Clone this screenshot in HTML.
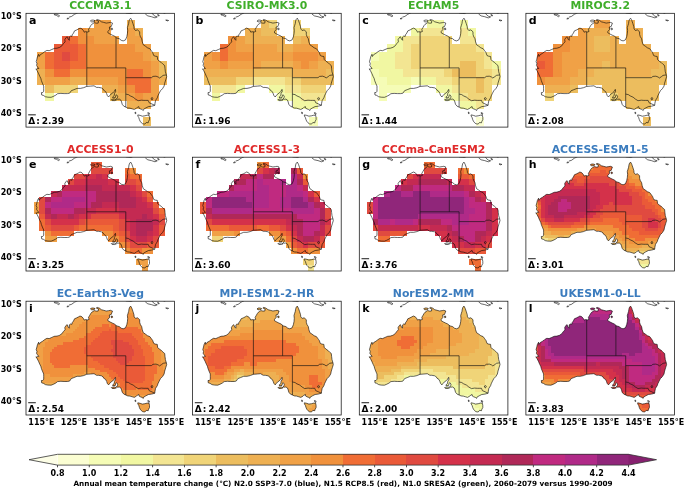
<!DOCTYPE html><html><head><meta charset="utf-8"><title>fig</title><style>
html,body{margin:0;padding:0;background:#fff}body{width:685px;height:488px;overflow:hidden}svg{display:block}text{font-family:"DejaVu Sans","Liberation Sans",sans-serif;font-weight:bold}
</style></head><body>
<svg width="685" height="488" viewBox="0 0 685 488">
<defs><path id="coast" d="M104.7 4.9 L105.9 7.2 L106.9 10.1 L107.9 13.3 L108.2 15.6 L109.5 17.2 L111.5 16.6 L113.7 18.5 L113.7 21.1 L114.4 23.4 L115.7 25.4 L116.3 28.6 L117.3 31.5 L119.3 32.8 L121.5 34.5 L123.8 35.4 L125.1 37.1 L126.7 39.3 L127.7 42.2 L129.3 42.9 L131.3 43.2 L131.6 46.1 L133.2 47.8 L135.2 49.1 L137.1 51.0 L138.7 52.3 L139.0 55.2 L139.4 58.5 L140.3 61.4 L140.7 63.4 L139.7 66.6 L138.7 69.9 L138.1 72.8 L136.5 75.4 L134.5 77.4 L133.2 79.9 L131.9 82.6 L131.3 84.5 L129.6 87.1 L129.0 90.0 L128.8 92.0 L125.7 92.9 L122.5 93.3 L119.9 94.6 L117.6 96.0 L117.3 97.2 L116.0 96.2 L114.4 95.6 L113.1 94.9 L112.8 93.3 L111.5 93.9 L110.5 94.9 L108.2 96.2 L106.3 95.6 L104.0 94.9 L101.7 94.7 L99.8 93.8 L97.8 92.9 L96.2 91.0 L95.6 88.7 L94.9 86.8 L93.3 85.8 L91.7 86.0 L90.4 85.8 L91.5 84.2 L91.7 82.9 L90.4 81.4 L89.7 82.6 L89.4 84.2 L86.8 84.7 L86.8 83.5 L88.3 82.2 L88.4 80.3 L89.7 78.0 L89.4 76.1 L88.1 78.3 L86.8 79.6 L84.9 80.9 L83.4 82.6 L82.6 83.7 L81.3 82.2 L80.6 80.3 L79.7 78.3 L77.7 77.0 L77.1 75.7 L75.4 74.6 L72.5 74.1 L70.6 74.1 L68.0 72.5 L64.7 72.8 L60.8 73.1 L57.6 74.4 L54.4 75.1 L51.1 75.1 L47.9 76.4 L45.3 77.4 L43.6 79.9 L41.4 80.3 L38.1 80.3 L34.9 80.1 L31.6 80.4 L29.7 81.9 L27.1 83.2 L25.1 84.0 L21.9 83.9 L19.3 83.4 L17.4 82.1 L15.7 81.7 L15.4 79.3 L16.7 79.3 L17.7 78.0 L17.7 75.1 L17.7 72.8 L16.4 69.9 L15.4 67.3 L14.8 65.0 L13.8 63.1 L12.7 60.5 L11.2 57.5 L9.9 55.6 L10.9 55.9 L11.8 55.2 L12.8 55.2 L11.5 53.6 L10.5 52.0 L11.0 50.4 L10.2 48.4 L10.9 45.8 L11.5 43.2 L12.7 41.0 L13.1 43.2 L14.4 41.3 L16.7 40.0 L18.7 38.4 L20.9 37.1 L23.2 37.4 L25.8 36.2 L28.4 35.1 L31.0 34.9 L33.6 34.1 L35.9 32.5 L37.5 30.2 L39.1 28.6 L38.8 26.3 L39.8 24.7 L41.0 23.4 L42.3 26.0 L43.3 27.0 L43.3 23.7 L44.3 22.8 L45.9 23.1 L46.2 21.5 L47.5 19.8 L48.5 17.6 L50.8 16.6 L52.7 15.6 L54.0 14.8 L56.0 15.6 L57.6 17.6 L58.2 18.9 L59.5 18.4 L61.5 18.7 L63.1 18.2 L62.5 16.2 L63.8 14.0 L64.7 12.4 L65.7 11.1 L66.8 10.4 L68.3 9.4 L70.3 9.9 L72.2 9.8 L72.5 7.8 L70.3 6.8 L71.2 6.2 L73.5 7.0 L75.4 8.5 L77.7 9.1 L80.3 9.8 L82.9 9.4 L84.5 9.1 L86.5 9.8 L85.8 11.7 L85.2 13.3 L83.4 13.7 L83.6 16.2 L81.9 18.2 L81.9 19.5 L84.2 20.8 L86.2 21.8 L88.4 22.8 L90.7 24.7 L93.3 25.4 L95.2 27.0 L97.2 27.6 L99.5 26.6 L100.8 23.4 L101.4 20.5 L101.7 17.2 L101.4 14.3 L102.1 12.0 L102.7 10.1 L103.0 7.8 L103.7 5.9ZM111.8 101.6 L114.1 102.1 L116.3 102.9 L118.9 102.5 L121.2 101.9 L123.1 102.1 L123.5 104.3 L123.5 106.3 L122.5 108.2 L122.2 109.5 L120.2 109.2 L118.9 110.8 L116.7 110.5 L115.4 109.5 L114.1 107.9 L113.4 106.3 L112.8 104.3 L111.8 102.7ZM85.3 86.4 L86.8 86.0 L88.8 85.8 L90.4 86.6 L88.8 87.3 L86.2 87.3ZM64.4 7.8 L65.4 6.8 L67.3 6.8 L69.0 7.3 L68.6 8.1 L67.0 8.6 L65.4 8.5ZM85.0 15.1 L86.2 14.8 L86.6 16.1 L85.5 16.6ZM109.0 98.8 L109.8 99.1 L109.8 100.4 L109.2 100.3ZM121.8 99.3 L123.5 99.9 L123.1 101.4 L122.3 100.8ZM43.0 3.9 L45.6 3.1 L48.5 1.0 L51.8 -0.6M40.7 5.5 L42.3 4.6 L42.7 5.4 L41.0 5.7M28.4 0.7 L31.3 1.0 L33.6 2.6 L32.6 3.4 L30.3 2.0 L28.4 1.6 L28.4 0.7M99.8 -0.3 L103.0 0.0 L105.0 0.3 L106.9 -0.6M119.3 0.7 L121.8 2.6 L125.4 3.4 L129.0 4.6 L131.3 3.6 L129.0 2.9 L127.4 1.6 L125.7 -0.6M137.1 -0.6 L138.7 0.0 L139.7 -0.6M132.2 2.6 L133.2 2.6 L132.9 1.6 L131.6 1.3 L132.2 2.6M139.7 6.8 L141.3 7.6 L142.6 7.2 L140.7 6.7 L139.7 6.8"/><path id="bord" d="M60.8 18.5 L60.8 73.1M90.0 24.1 L90.0 54.6M60.8 54.6 L99.8 54.6M99.8 54.6 L99.8 93.8M99.8 64.4 L125.4 64.4 L127.0 63.1 L130.0 62.9 L132.2 63.7 L133.5 64.7 L135.5 63.4 L137.1 62.1 L140.3 61.6M99.8 80.8 L102.4 81.3 L104.3 82.6 L107.2 83.9 L109.5 85.8 L112.1 87.4 L115.4 86.9 L118.0 87.1 L119.9 87.1 L122.2 87.1 L123.1 89.4 L128.8 92.0M125.1 84.8 L126.2 84.3 L127.0 85.0 L126.1 86.8 L125.3 86.1Z"/><clipPath id="land"><path d="M104.7 4.9 L105.9 7.2 L106.9 10.1 L107.9 13.3 L108.2 15.6 L109.5 17.2 L111.5 16.6 L113.7 18.5 L113.7 21.1 L114.4 23.4 L115.7 25.4 L116.3 28.6 L117.3 31.5 L119.3 32.8 L121.5 34.5 L123.8 35.4 L125.1 37.1 L126.7 39.3 L127.7 42.2 L129.3 42.9 L131.3 43.2 L131.6 46.1 L133.2 47.8 L135.2 49.1 L137.1 51.0 L138.7 52.3 L139.0 55.2 L139.4 58.5 L140.3 61.4 L140.7 63.4 L139.7 66.6 L138.7 69.9 L138.1 72.8 L136.5 75.4 L134.5 77.4 L133.2 79.9 L131.9 82.6 L131.3 84.5 L129.6 87.1 L129.0 90.0 L128.8 92.0 L125.7 92.9 L122.5 93.3 L119.9 94.6 L117.6 96.0 L117.3 97.2 L116.0 96.2 L114.4 95.6 L113.1 94.9 L112.8 93.3 L111.5 93.9 L110.5 94.9 L108.2 96.2 L106.3 95.6 L104.0 94.9 L101.7 94.7 L99.8 93.8 L97.8 92.9 L96.2 91.0 L95.6 88.7 L94.9 86.8 L93.3 85.8 L91.7 86.0 L90.4 85.8 L91.5 84.2 L91.7 82.9 L90.4 81.4 L89.7 82.6 L89.4 84.2 L86.8 84.7 L86.8 83.5 L88.3 82.2 L88.4 80.3 L89.7 78.0 L89.4 76.1 L88.1 78.3 L86.8 79.6 L84.9 80.9 L83.4 82.6 L82.6 83.7 L81.3 82.2 L80.6 80.3 L79.7 78.3 L77.7 77.0 L77.1 75.7 L75.4 74.6 L72.5 74.1 L70.6 74.1 L68.0 72.5 L64.7 72.8 L60.8 73.1 L57.6 74.4 L54.4 75.1 L51.1 75.1 L47.9 76.4 L45.3 77.4 L43.6 79.9 L41.4 80.3 L38.1 80.3 L34.9 80.1 L31.6 80.4 L29.7 81.9 L27.1 83.2 L25.1 84.0 L21.9 83.9 L19.3 83.4 L17.4 82.1 L15.7 81.7 L15.4 79.3 L16.7 79.3 L17.7 78.0 L17.7 75.1 L17.7 72.8 L16.4 69.9 L15.4 67.3 L14.8 65.0 L13.8 63.1 L12.7 60.5 L11.2 57.5 L9.9 55.6 L10.9 55.9 L11.8 55.2 L12.8 55.2 L11.5 53.6 L10.5 52.0 L11.0 50.4 L10.2 48.4 L10.9 45.8 L11.5 43.2 L12.7 41.0 L13.1 43.2 L14.4 41.3 L16.7 40.0 L18.7 38.4 L20.9 37.1 L23.2 37.4 L25.8 36.2 L28.4 35.1 L31.0 34.9 L33.6 34.1 L35.9 32.5 L37.5 30.2 L39.1 28.6 L38.8 26.3 L39.8 24.7 L41.0 23.4 L42.3 26.0 L43.3 27.0 L43.3 23.7 L44.3 22.8 L45.9 23.1 L46.2 21.5 L47.5 19.8 L48.5 17.6 L50.8 16.6 L52.7 15.6 L54.0 14.8 L56.0 15.6 L57.6 17.6 L58.2 18.9 L59.5 18.4 L61.5 18.7 L63.1 18.2 L62.5 16.2 L63.8 14.0 L64.7 12.4 L65.7 11.1 L66.8 10.4 L68.3 9.4 L70.3 9.9 L72.2 9.8 L72.5 7.8 L70.3 6.8 L71.2 6.2 L73.5 7.0 L75.4 8.5 L77.7 9.1 L80.3 9.8 L82.9 9.4 L84.5 9.1 L86.5 9.8 L85.8 11.7 L85.2 13.3 L83.4 13.7 L83.6 16.2 L81.9 18.2 L81.9 19.5 L84.2 20.8 L86.2 21.8 L88.4 22.8 L90.7 24.7 L93.3 25.4 L95.2 27.0 L97.2 27.6 L99.5 26.6 L100.8 23.4 L101.4 20.5 L101.7 17.2 L101.4 14.3 L102.1 12.0 L102.7 10.1 L103.0 7.8 L103.7 5.9ZM111.8 101.6 L114.1 102.1 L116.3 102.9 L118.9 102.5 L121.2 101.9 L123.1 102.1 L123.5 104.3 L123.5 106.3 L122.5 108.2 L122.2 109.5 L120.2 109.2 L118.9 110.8 L116.7 110.5 L115.4 109.5 L114.1 107.9 L113.4 106.3 L112.8 104.3 L111.8 102.7ZM85.3 86.4 L86.8 86.0 L88.8 85.8 L90.4 86.6 L88.8 87.3 L86.2 87.3ZM64.4 7.8 L65.4 6.8 L67.3 6.8 L69.0 7.3 L68.6 8.1 L67.0 8.6 L65.4 8.5ZM85.0 15.1 L86.2 14.8 L86.6 16.1 L85.5 16.6Z"/></clipPath><clipPath id="cp"><rect x="0" y="0" width="148.6" height="113.8"/></clipPath></defs>
<rect width="685" height="488" fill="#fff"/>
<g transform="translate(26.0 13.3)">
<g clip-path="url(#cp)">
<g shape-rendering="crispEdges">
<rect x="68.14" y="6.66" width="16.38" height="8.28" fill="#f0a146"/>
<rect x="100.59" y="6.66" width="8.26" height="8.28" fill="#eeb052"/>
<rect x="51.92" y="14.79" width="8.26" height="8.28" fill="#f0913c"/>
<rect x="60.03" y="14.79" width="24.49" height="8.28" fill="#f0a146"/>
<rect x="100.59" y="14.79" width="8.26" height="8.28" fill="#f0a146"/>
<rect x="108.71" y="14.79" width="8.26" height="8.28" fill="#eeb052"/>
<rect x="35.70" y="22.91" width="8.26" height="8.28" fill="#ea5a38"/>
<rect x="43.81" y="22.91" width="8.26" height="8.28" fill="#f06d35"/>
<rect x="51.92" y="22.91" width="16.37" height="8.28" fill="#f0913c"/>
<rect x="68.14" y="22.91" width="24.49" height="8.28" fill="#f0a146"/>
<rect x="100.59" y="22.91" width="16.38" height="8.28" fill="#f0a146"/>
<rect x="27.58" y="31.04" width="24.49" height="8.28" fill="#ea5a38"/>
<rect x="51.92" y="31.04" width="8.26" height="8.28" fill="#f06d35"/>
<rect x="60.03" y="31.04" width="48.83" height="8.28" fill="#f0913c"/>
<rect x="108.71" y="31.04" width="16.37" height="8.28" fill="#f0a146"/>
<rect x="11.36" y="39.16" width="8.26" height="8.28" fill="#f0a146"/>
<rect x="19.47" y="39.16" width="8.26" height="8.28" fill="#f06d35"/>
<rect x="27.58" y="39.16" width="8.26" height="8.28" fill="#ea5a38"/>
<rect x="35.70" y="39.16" width="8.26" height="8.28" fill="#e04a40"/>
<rect x="43.81" y="39.16" width="8.26" height="8.28" fill="#ea5a38"/>
<rect x="51.92" y="39.16" width="8.26" height="8.28" fill="#f06d35"/>
<rect x="60.03" y="39.16" width="56.94" height="8.28" fill="#f0913c"/>
<rect x="116.82" y="39.16" width="8.26" height="8.28" fill="#f0a146"/>
<rect x="124.93" y="39.16" width="8.26" height="8.28" fill="#eeb052"/>
<rect x="11.36" y="47.29" width="8.26" height="8.28" fill="#f0a146"/>
<rect x="19.47" y="47.29" width="8.26" height="8.28" fill="#f06d35"/>
<rect x="27.58" y="47.29" width="16.38" height="8.28" fill="#ea5a38"/>
<rect x="43.81" y="47.29" width="16.37" height="8.28" fill="#f06d35"/>
<rect x="60.03" y="47.29" width="65.05" height="8.28" fill="#f0913c"/>
<rect x="124.93" y="47.29" width="8.26" height="8.28" fill="#f0a146"/>
<rect x="133.05" y="47.29" width="8.26" height="8.28" fill="#ecbd5e"/>
<rect x="11.36" y="55.41" width="8.26" height="8.28" fill="#eeb052"/>
<rect x="19.47" y="55.41" width="8.26" height="8.28" fill="#f0913c"/>
<rect x="27.58" y="55.41" width="16.38" height="8.28" fill="#f06d35"/>
<rect x="43.81" y="55.41" width="56.94" height="8.28" fill="#f0913c"/>
<rect x="100.59" y="55.41" width="16.38" height="8.28" fill="#f06d35"/>
<rect x="116.82" y="55.41" width="8.26" height="8.28" fill="#f0913c"/>
<rect x="124.93" y="55.41" width="8.26" height="8.28" fill="#f0a146"/>
<rect x="133.05" y="55.41" width="8.26" height="8.28" fill="#ecbd5e"/>
<rect x="11.36" y="63.54" width="8.26" height="8.28" fill="#eeb052"/>
<rect x="19.47" y="63.54" width="24.49" height="8.28" fill="#f0a146"/>
<rect x="43.81" y="63.54" width="16.37" height="8.28" fill="#eeb052"/>
<rect x="60.03" y="63.54" width="32.60" height="8.28" fill="#f0a146"/>
<rect x="92.48" y="63.54" width="8.26" height="8.28" fill="#f0913c"/>
<rect x="100.59" y="63.54" width="24.49" height="8.28" fill="#f06d35"/>
<rect x="124.93" y="63.54" width="8.26" height="8.28" fill="#f0a146"/>
<rect x="133.05" y="63.54" width="8.26" height="8.28" fill="#eeb052"/>
<rect x="19.47" y="71.66" width="8.26" height="8.28" fill="#ecbd5e"/>
<rect x="27.58" y="71.66" width="24.49" height="8.28" fill="#f0d478"/>
<rect x="76.26" y="71.66" width="16.37" height="8.28" fill="#eeb052"/>
<rect x="92.48" y="71.66" width="8.26" height="8.28" fill="#f0a146"/>
<rect x="100.59" y="71.66" width="8.26" height="8.28" fill="#f0913c"/>
<rect x="108.71" y="71.66" width="16.37" height="8.28" fill="#f06d35"/>
<rect x="124.93" y="71.66" width="8.26" height="8.28" fill="#f0a146"/>
<rect x="19.47" y="79.79" width="8.26" height="8.28" fill="#f1f7a2"/>
<rect x="84.37" y="79.79" width="8.26" height="8.28" fill="#ecbd5e"/>
<rect x="92.48" y="79.79" width="8.26" height="8.28" fill="#eeb052"/>
<rect x="100.59" y="79.79" width="8.26" height="8.28" fill="#f0a146"/>
<rect x="108.71" y="79.79" width="8.26" height="8.28" fill="#f0913c"/>
<rect x="116.82" y="79.79" width="16.38" height="8.28" fill="#f0a146"/>
<rect x="100.59" y="87.91" width="24.49" height="8.28" fill="#eeb052"/>
<rect x="116.82" y="104.16" width="8.26" height="8.28" fill="#ecbd5e"/>
</g>
<use href="#coast" fill="none" stroke="#000" stroke-width="0.6" stroke-linejoin="round"/>
<use href="#bord" fill="none" stroke="#111" stroke-width="0.65"/>
</g>
<rect x="0" y="0" width="148.6" height="113.8" fill="none" stroke="#111" stroke-width="0.75"/>
<text x="2.9" y="10.9" font-size="11">a</text>
<text x="2.2" y="110.4" font-size="9">Δ<tspan dx="1">:</tspan><tspan dx="2">2.39</tspan></text>
<rect x="2.2" y="101.1" width="7.6" height="0.9" fill="#000"/>
<text x="74.3" y="-4.2" font-size="10.85" text-anchor="middle" fill="#3fae2a">CCCMA3.1</text>
</g>
<g transform="translate(192.6 13.3)">
<g clip-path="url(#cp)">
<g shape-rendering="crispEdges">
<rect x="68.14" y="6.66" width="8.26" height="8.28" fill="#ecbd5e"/>
<rect x="76.26" y="6.66" width="8.26" height="8.28" fill="#f0d478"/>
<rect x="100.59" y="6.66" width="8.26" height="8.28" fill="#f0d478"/>
<rect x="51.92" y="14.79" width="16.37" height="8.28" fill="#eeb052"/>
<rect x="68.14" y="14.79" width="16.38" height="8.28" fill="#ecbd5e"/>
<rect x="100.59" y="14.79" width="16.38" height="8.28" fill="#f0d478"/>
<rect x="35.70" y="22.91" width="8.26" height="8.28" fill="#f0913c"/>
<rect x="43.81" y="22.91" width="8.26" height="8.28" fill="#f0a146"/>
<rect x="51.92" y="22.91" width="40.71" height="8.28" fill="#eeb052"/>
<rect x="100.59" y="22.91" width="8.26" height="8.28" fill="#ecbd5e"/>
<rect x="108.71" y="22.91" width="8.26" height="8.28" fill="#eeb052"/>
<rect x="27.58" y="31.04" width="8.26" height="8.28" fill="#f06d35"/>
<rect x="35.70" y="31.04" width="8.26" height="8.28" fill="#f0913c"/>
<rect x="43.81" y="31.04" width="40.71" height="8.28" fill="#f0a146"/>
<rect x="84.37" y="31.04" width="16.37" height="8.28" fill="#eeb052"/>
<rect x="100.59" y="31.04" width="24.49" height="8.28" fill="#f0a146"/>
<rect x="11.36" y="39.16" width="8.26" height="8.28" fill="#f0a146"/>
<rect x="19.47" y="39.16" width="8.26" height="8.28" fill="#f0913c"/>
<rect x="27.58" y="39.16" width="8.26" height="8.28" fill="#f06d35"/>
<rect x="35.70" y="39.16" width="24.49" height="8.28" fill="#f0913c"/>
<rect x="60.03" y="39.16" width="40.71" height="8.28" fill="#f0a146"/>
<rect x="100.59" y="39.16" width="24.49" height="8.28" fill="#f0913c"/>
<rect x="124.93" y="39.16" width="8.26" height="8.28" fill="#f0a146"/>
<rect x="11.36" y="47.29" width="16.38" height="8.28" fill="#f0a146"/>
<rect x="27.58" y="47.29" width="8.26" height="8.28" fill="#f0913c"/>
<rect x="35.70" y="47.29" width="32.60" height="8.28" fill="#f0a146"/>
<rect x="68.14" y="47.29" width="32.60" height="8.28" fill="#eeb052"/>
<rect x="100.59" y="47.29" width="8.26" height="8.28" fill="#f0a146"/>
<rect x="108.71" y="47.29" width="8.26" height="8.28" fill="#f0913c"/>
<rect x="116.82" y="47.29" width="8.26" height="8.28" fill="#f0a146"/>
<rect x="124.93" y="47.29" width="16.37" height="8.28" fill="#eeb052"/>
<rect x="11.36" y="55.41" width="48.82" height="8.28" fill="#eeb052"/>
<rect x="60.03" y="55.41" width="40.71" height="8.28" fill="#ecbd5e"/>
<rect x="100.59" y="55.41" width="32.60" height="8.28" fill="#eeb052"/>
<rect x="133.05" y="55.41" width="8.26" height="8.28" fill="#ecbd5e"/>
<rect x="11.36" y="63.54" width="32.60" height="8.28" fill="#ecbd5e"/>
<rect x="43.81" y="63.54" width="16.37" height="8.28" fill="#f0d478"/>
<rect x="60.03" y="63.54" width="32.60" height="8.28" fill="#f3e592"/>
<rect x="92.48" y="63.54" width="16.38" height="8.28" fill="#f0d478"/>
<rect x="108.71" y="63.54" width="32.60" height="8.28" fill="#ecbd5e"/>
<rect x="19.47" y="71.66" width="24.49" height="8.28" fill="#f3e592"/>
<rect x="43.81" y="71.66" width="8.26" height="8.28" fill="#f1f7a2"/>
<rect x="76.26" y="71.66" width="16.37" height="8.28" fill="#f1f7a2"/>
<rect x="92.48" y="71.66" width="16.38" height="8.28" fill="#f3e592"/>
<rect x="108.71" y="71.66" width="24.49" height="8.28" fill="#f0d478"/>
<rect x="19.47" y="79.79" width="8.26" height="8.28" fill="#f1f7a2"/>
<rect x="84.37" y="79.79" width="8.26" height="8.28" fill="#f5fcb6"/>
<rect x="92.48" y="79.79" width="16.38" height="8.28" fill="#f1f7a2"/>
<rect x="108.71" y="79.79" width="24.49" height="8.28" fill="#f3e592"/>
<rect x="100.59" y="87.91" width="24.49" height="8.28" fill="#f1f7a2"/>
<rect x="116.82" y="104.16" width="8.26" height="8.28" fill="#f5fcb6"/>
</g>
<use href="#coast" fill="none" stroke="#000" stroke-width="0.6" stroke-linejoin="round"/>
<use href="#bord" fill="none" stroke="#111" stroke-width="0.65"/>
</g>
<rect x="0" y="0" width="148.6" height="113.8" fill="none" stroke="#111" stroke-width="0.75"/>
<text x="2.9" y="10.9" font-size="11">b</text>
<text x="2.2" y="110.4" font-size="9">Δ<tspan dx="1">:</tspan><tspan dx="2">1.96</tspan></text>
<rect x="2.2" y="101.1" width="7.6" height="0.9" fill="#000"/>
<text x="74.3" y="-4.2" font-size="10.85" text-anchor="middle" fill="#3fae2a">CSIRO-MK3.0</text>
</g>
<g transform="translate(359.3 13.3)">
<g clip-path="url(#cp)">
<g shape-rendering="crispEdges">
<rect x="68.14" y="6.66" width="16.38" height="8.28" fill="#f1f7a2"/>
<rect x="100.59" y="6.66" width="8.26" height="8.28" fill="#f1f7a2"/>
<rect x="51.92" y="14.79" width="8.26" height="8.28" fill="#f1f7a2"/>
<rect x="60.03" y="14.79" width="24.49" height="8.28" fill="#f3e592"/>
<rect x="100.59" y="14.79" width="8.26" height="8.28" fill="#f3e592"/>
<rect x="108.71" y="14.79" width="8.26" height="8.28" fill="#f1f7a2"/>
<rect x="35.70" y="22.91" width="8.26" height="8.28" fill="#f1f7a2"/>
<rect x="43.81" y="22.91" width="16.37" height="8.28" fill="#f3e592"/>
<rect x="60.03" y="22.91" width="32.60" height="8.28" fill="#f0d478"/>
<rect x="100.59" y="22.91" width="16.38" height="8.28" fill="#f3e592"/>
<rect x="27.58" y="31.04" width="16.38" height="8.28" fill="#f1f7a2"/>
<rect x="43.81" y="31.04" width="8.26" height="8.28" fill="#f3e592"/>
<rect x="51.92" y="31.04" width="65.05" height="8.28" fill="#f0d478"/>
<rect x="116.82" y="31.04" width="8.26" height="8.28" fill="#f3e592"/>
<rect x="11.36" y="39.16" width="8.26" height="8.28" fill="#f5fcb6"/>
<rect x="19.47" y="39.16" width="16.38" height="8.28" fill="#f1f7a2"/>
<rect x="35.70" y="39.16" width="16.38" height="8.28" fill="#f3e592"/>
<rect x="51.92" y="39.16" width="73.16" height="8.28" fill="#f0d478"/>
<rect x="124.93" y="39.16" width="8.26" height="8.28" fill="#f3e592"/>
<rect x="11.36" y="47.29" width="24.49" height="8.28" fill="#f1f7a2"/>
<rect x="35.70" y="47.29" width="16.38" height="8.28" fill="#f3e592"/>
<rect x="51.92" y="47.29" width="48.82" height="8.28" fill="#f0d478"/>
<rect x="100.59" y="47.29" width="16.38" height="8.28" fill="#ecbd5e"/>
<rect x="116.82" y="47.29" width="8.26" height="8.28" fill="#f0d478"/>
<rect x="124.93" y="47.29" width="8.26" height="8.28" fill="#f3e592"/>
<rect x="133.05" y="47.29" width="8.26" height="8.28" fill="#f1f7a2"/>
<rect x="11.36" y="55.41" width="8.26" height="8.28" fill="#f5fcb6"/>
<rect x="19.47" y="55.41" width="24.49" height="8.28" fill="#f1f7a2"/>
<rect x="43.81" y="55.41" width="40.71" height="8.28" fill="#f3e592"/>
<rect x="84.37" y="55.41" width="8.26" height="8.28" fill="#f0d478"/>
<rect x="92.48" y="55.41" width="24.49" height="8.28" fill="#ecbd5e"/>
<rect x="116.82" y="55.41" width="16.38" height="8.28" fill="#f0d478"/>
<rect x="133.05" y="55.41" width="8.26" height="8.28" fill="#f3e592"/>
<rect x="11.36" y="63.54" width="16.38" height="8.28" fill="#f5fcb6"/>
<rect x="27.58" y="63.54" width="24.49" height="8.28" fill="#f1f7a2"/>
<rect x="51.92" y="63.54" width="8.26" height="8.28" fill="#f5fcb6"/>
<rect x="60.03" y="63.54" width="16.38" height="8.28" fill="#f1f7a2"/>
<rect x="76.26" y="63.54" width="16.37" height="8.28" fill="#f3e592"/>
<rect x="92.48" y="63.54" width="24.49" height="8.28" fill="#f0d478"/>
<rect x="116.82" y="63.54" width="8.26" height="8.28" fill="#ecbd5e"/>
<rect x="124.93" y="63.54" width="8.26" height="8.28" fill="#f0d478"/>
<rect x="133.05" y="63.54" width="8.26" height="8.28" fill="#f3e592"/>
<rect x="19.47" y="71.66" width="32.60" height="8.28" fill="#f5fcb6"/>
<rect x="76.26" y="71.66" width="16.37" height="8.28" fill="#f1f7a2"/>
<rect x="92.48" y="71.66" width="8.26" height="8.28" fill="#f3e592"/>
<rect x="100.59" y="71.66" width="16.38" height="8.28" fill="#f0d478"/>
<rect x="116.82" y="71.66" width="8.26" height="8.28" fill="#ecbd5e"/>
<rect x="124.93" y="71.66" width="8.26" height="8.28" fill="#f0d478"/>
<rect x="19.47" y="79.79" width="8.26" height="8.28" fill="#f5fcb6"/>
<rect x="84.37" y="79.79" width="8.26" height="8.28" fill="#f5fcb6"/>
<rect x="92.48" y="79.79" width="8.26" height="8.28" fill="#f1f7a2"/>
<rect x="100.59" y="79.79" width="8.26" height="8.28" fill="#f3e592"/>
<rect x="108.71" y="79.79" width="24.49" height="8.28" fill="#f0d478"/>
<rect x="100.59" y="87.91" width="16.38" height="8.28" fill="#f1f7a2"/>
<rect x="116.82" y="87.91" width="8.26" height="8.28" fill="#f3e592"/>
<rect x="116.82" y="104.16" width="8.26" height="8.28" fill="#fbfed2"/>
</g>
<use href="#coast" fill="none" stroke="#000" stroke-width="0.6" stroke-linejoin="round"/>
<use href="#bord" fill="none" stroke="#111" stroke-width="0.65"/>
</g>
<rect x="0" y="0" width="148.6" height="113.8" fill="none" stroke="#111" stroke-width="0.75"/>
<text x="2.9" y="10.9" font-size="11">c</text>
<text x="2.2" y="110.4" font-size="9">Δ<tspan dx="1">:</tspan><tspan dx="2">1.44</tspan></text>
<rect x="2.2" y="101.1" width="7.6" height="0.9" fill="#000"/>
<text x="74.3" y="-4.2" font-size="10.85" text-anchor="middle" fill="#3fae2a">ECHAM5</text>
</g>
<g transform="translate(525.9 13.3)">
<g clip-path="url(#cp)">
<g shape-rendering="crispEdges">
<rect x="68.14" y="6.66" width="16.38" height="8.28" fill="#f0a146"/>
<rect x="100.59" y="6.66" width="8.26" height="8.28" fill="#eeb052"/>
<rect x="51.92" y="14.79" width="8.26" height="8.28" fill="#f0a146"/>
<rect x="60.03" y="14.79" width="24.49" height="8.28" fill="#eeb052"/>
<rect x="100.59" y="14.79" width="16.38" height="8.28" fill="#eeb052"/>
<rect x="35.70" y="22.91" width="8.26" height="8.28" fill="#f0913c"/>
<rect x="43.81" y="22.91" width="16.37" height="8.28" fill="#f0a146"/>
<rect x="60.03" y="22.91" width="8.26" height="8.28" fill="#eeb052"/>
<rect x="68.14" y="22.91" width="16.38" height="8.28" fill="#ecbd5e"/>
<rect x="84.37" y="22.91" width="8.26" height="8.28" fill="#eeb052"/>
<rect x="100.59" y="22.91" width="16.38" height="8.28" fill="#eeb052"/>
<rect x="27.58" y="31.04" width="16.38" height="8.28" fill="#f0913c"/>
<rect x="43.81" y="31.04" width="16.37" height="8.28" fill="#f0a146"/>
<rect x="60.03" y="31.04" width="8.26" height="8.28" fill="#eeb052"/>
<rect x="68.14" y="31.04" width="16.38" height="8.28" fill="#ecbd5e"/>
<rect x="84.37" y="31.04" width="40.71" height="8.28" fill="#eeb052"/>
<rect x="11.36" y="39.16" width="16.38" height="8.28" fill="#f06d35"/>
<rect x="27.58" y="39.16" width="8.26" height="8.28" fill="#f0913c"/>
<rect x="35.70" y="39.16" width="24.49" height="8.28" fill="#f0a146"/>
<rect x="60.03" y="39.16" width="73.16" height="8.28" fill="#eeb052"/>
<rect x="11.36" y="47.29" width="8.26" height="8.28" fill="#ea5a38"/>
<rect x="19.47" y="47.29" width="8.26" height="8.28" fill="#f06d35"/>
<rect x="27.58" y="47.29" width="8.26" height="8.28" fill="#f0913c"/>
<rect x="35.70" y="47.29" width="24.49" height="8.28" fill="#f0a146"/>
<rect x="60.03" y="47.29" width="16.38" height="8.28" fill="#eeb052"/>
<rect x="76.26" y="47.29" width="8.26" height="8.28" fill="#ecbd5e"/>
<rect x="84.37" y="47.29" width="48.83" height="8.28" fill="#eeb052"/>
<rect x="133.05" y="47.29" width="8.26" height="8.28" fill="#ecbd5e"/>
<rect x="11.36" y="55.41" width="16.38" height="8.28" fill="#f06d35"/>
<rect x="27.58" y="55.41" width="8.26" height="8.28" fill="#f0913c"/>
<rect x="35.70" y="55.41" width="16.38" height="8.28" fill="#f0a146"/>
<rect x="51.92" y="55.41" width="16.37" height="8.28" fill="#eeb052"/>
<rect x="68.14" y="55.41" width="32.60" height="8.28" fill="#ecbd5e"/>
<rect x="100.59" y="55.41" width="24.49" height="8.28" fill="#eeb052"/>
<rect x="124.93" y="55.41" width="16.37" height="8.28" fill="#ecbd5e"/>
<rect x="11.36" y="63.54" width="8.26" height="8.28" fill="#f0913c"/>
<rect x="19.47" y="63.54" width="24.49" height="8.28" fill="#f0a146"/>
<rect x="43.81" y="63.54" width="16.37" height="8.28" fill="#eeb052"/>
<rect x="60.03" y="63.54" width="81.28" height="8.28" fill="#ecbd5e"/>
<rect x="19.47" y="71.66" width="24.49" height="8.28" fill="#eeb052"/>
<rect x="43.81" y="71.66" width="8.26" height="8.28" fill="#ecbd5e"/>
<rect x="76.26" y="71.66" width="56.94" height="8.28" fill="#ecbd5e"/>
<rect x="19.47" y="79.79" width="8.26" height="8.28" fill="#f0d478"/>
<rect x="84.37" y="79.79" width="8.26" height="8.28" fill="#f0d478"/>
<rect x="92.48" y="79.79" width="40.71" height="8.28" fill="#ecbd5e"/>
<rect x="100.59" y="87.91" width="24.49" height="8.28" fill="#ecbd5e"/>
<rect x="116.82" y="104.16" width="8.26" height="8.28" fill="#ecbd5e"/>
</g>
<use href="#coast" fill="none" stroke="#000" stroke-width="0.6" stroke-linejoin="round"/>
<use href="#bord" fill="none" stroke="#111" stroke-width="0.65"/>
</g>
<rect x="0" y="0" width="148.6" height="113.8" fill="none" stroke="#111" stroke-width="0.75"/>
<text x="2.9" y="10.9" font-size="11">d</text>
<text x="2.2" y="110.4" font-size="9">Δ<tspan dx="1">:</tspan><tspan dx="2">2.08</tspan></text>
<rect x="2.2" y="101.1" width="7.6" height="0.9" fill="#000"/>
<text x="74.3" y="-4.2" font-size="10.85" text-anchor="middle" fill="#3fae2a">MIROC3.2</text>
</g>
<g transform="translate(26.0 157.2)">
<g clip-path="url(#cp)">
<g shape-rendering="crispEdges">
<rect x="64.58" y="5.20" width="11.51" height="5.84" fill="#ea5a38"/>
<rect x="64.58" y="10.89" width="22.87" height="5.84" fill="#e04a40"/>
<rect x="98.65" y="10.89" width="5.83" height="5.84" fill="#f06d35"/>
<rect x="104.33" y="10.89" width="5.83" height="5.84" fill="#f0913c"/>
<rect x="47.54" y="16.58" width="11.51" height="5.84" fill="#e04a40"/>
<rect x="58.90" y="16.58" width="11.51" height="5.84" fill="#d4314a"/>
<rect x="70.25" y="16.58" width="5.83" height="5.84" fill="#c42a52"/>
<rect x="75.93" y="16.58" width="5.83" height="5.84" fill="#d4314a"/>
<rect x="98.65" y="16.58" width="5.83" height="5.84" fill="#ea5a38"/>
<rect x="104.33" y="16.58" width="11.51" height="5.84" fill="#f06d35"/>
<rect x="41.86" y="22.26" width="5.83" height="5.84" fill="#e04a40"/>
<rect x="47.54" y="22.26" width="11.51" height="5.84" fill="#d4314a"/>
<rect x="58.90" y="22.26" width="22.86" height="5.84" fill="#c42a52"/>
<rect x="81.61" y="22.26" width="11.51" height="5.84" fill="#d4314a"/>
<rect x="98.65" y="22.26" width="11.51" height="5.84" fill="#e04a40"/>
<rect x="110.01" y="22.26" width="5.83" height="5.84" fill="#ea5a38"/>
<rect x="36.18" y="27.95" width="22.86" height="5.84" fill="#c42a52"/>
<rect x="58.90" y="27.95" width="17.19" height="5.84" fill="#b02858"/>
<rect x="75.93" y="27.95" width="28.54" height="5.84" fill="#c42a52"/>
<rect x="104.33" y="27.95" width="5.83" height="5.84" fill="#d4314a"/>
<rect x="110.01" y="27.95" width="5.83" height="5.84" fill="#e04a40"/>
<rect x="24.82" y="33.64" width="5.83" height="5.84" fill="#c42a52"/>
<rect x="30.50" y="33.64" width="5.83" height="5.84" fill="#b02858"/>
<rect x="36.18" y="33.64" width="34.22" height="5.84" fill="#c02a80"/>
<rect x="70.25" y="33.64" width="34.22" height="5.84" fill="#b02858"/>
<rect x="104.33" y="33.64" width="5.83" height="5.84" fill="#c42a52"/>
<rect x="110.01" y="33.64" width="5.83" height="5.84" fill="#d4314a"/>
<rect x="115.68" y="33.64" width="5.83" height="5.84" fill="#e04a40"/>
<rect x="121.36" y="33.64" width="5.83" height="5.84" fill="#f06d35"/>
<rect x="13.47" y="39.33" width="5.83" height="5.84" fill="#e04a40"/>
<rect x="19.15" y="39.33" width="5.83" height="5.84" fill="#b02858"/>
<rect x="24.82" y="39.33" width="11.51" height="5.84" fill="#c02a80"/>
<rect x="36.18" y="39.33" width="22.86" height="5.84" fill="#b02a88"/>
<rect x="58.90" y="39.33" width="11.51" height="5.84" fill="#c02a80"/>
<rect x="70.25" y="39.33" width="39.90" height="5.84" fill="#b02858"/>
<rect x="110.01" y="39.33" width="5.83" height="5.84" fill="#c42a52"/>
<rect x="115.68" y="39.33" width="5.83" height="5.84" fill="#d4314a"/>
<rect x="121.36" y="39.33" width="5.83" height="5.84" fill="#ea5a38"/>
<rect x="7.79" y="45.01" width="5.83" height="5.84" fill="#f0a146"/>
<rect x="13.47" y="45.01" width="5.83" height="5.84" fill="#e04a40"/>
<rect x="19.15" y="45.01" width="5.83" height="5.84" fill="#c02a80"/>
<rect x="24.82" y="45.01" width="22.86" height="5.84" fill="#b02a88"/>
<rect x="47.54" y="45.01" width="17.19" height="5.84" fill="#c02a80"/>
<rect x="64.58" y="45.01" width="11.51" height="5.84" fill="#b02858"/>
<rect x="75.93" y="45.01" width="17.19" height="5.84" fill="#c42a52"/>
<rect x="92.97" y="45.01" width="17.19" height="5.84" fill="#b02858"/>
<rect x="110.01" y="45.01" width="11.51" height="5.84" fill="#c42a52"/>
<rect x="121.36" y="45.01" width="5.83" height="5.84" fill="#d4314a"/>
<rect x="127.04" y="45.01" width="5.83" height="5.84" fill="#ea5a38"/>
<rect x="7.79" y="50.70" width="5.83" height="5.84" fill="#f0a146"/>
<rect x="13.47" y="50.70" width="5.83" height="5.84" fill="#e04a40"/>
<rect x="19.15" y="50.70" width="5.83" height="5.84" fill="#b02858"/>
<rect x="24.82" y="50.70" width="22.86" height="5.84" fill="#c02a80"/>
<rect x="47.54" y="50.70" width="11.51" height="5.84" fill="#b02858"/>
<rect x="58.90" y="50.70" width="11.51" height="5.84" fill="#c42a52"/>
<rect x="70.25" y="50.70" width="22.86" height="5.84" fill="#d4314a"/>
<rect x="92.97" y="50.70" width="34.22" height="5.84" fill="#c42a52"/>
<rect x="127.04" y="50.70" width="5.83" height="5.84" fill="#e04a40"/>
<rect x="132.72" y="50.70" width="5.83" height="5.84" fill="#f06d35"/>
<rect x="13.47" y="56.39" width="5.83" height="5.84" fill="#ea5a38"/>
<rect x="19.15" y="56.39" width="5.83" height="5.84" fill="#c42a52"/>
<rect x="24.82" y="56.39" width="5.83" height="5.84" fill="#b02858"/>
<rect x="30.50" y="56.39" width="11.51" height="5.84" fill="#c42a52"/>
<rect x="41.86" y="56.39" width="5.83" height="5.84" fill="#b02858"/>
<rect x="47.54" y="56.39" width="5.83" height="5.84" fill="#c42a52"/>
<rect x="53.22" y="56.39" width="11.51" height="5.84" fill="#d4314a"/>
<rect x="64.58" y="56.39" width="28.54" height="5.84" fill="#e04a40"/>
<rect x="92.97" y="56.39" width="5.83" height="5.84" fill="#d4314a"/>
<rect x="98.65" y="56.39" width="17.19" height="5.84" fill="#c42a52"/>
<rect x="115.68" y="56.39" width="5.83" height="5.84" fill="#b02858"/>
<rect x="121.36" y="56.39" width="5.83" height="5.84" fill="#c42a52"/>
<rect x="127.04" y="56.39" width="5.83" height="5.84" fill="#d4314a"/>
<rect x="132.72" y="56.39" width="5.83" height="5.84" fill="#ea5a38"/>
<rect x="13.47" y="62.08" width="5.83" height="5.84" fill="#f06d35"/>
<rect x="19.15" y="62.08" width="5.83" height="5.84" fill="#e04a40"/>
<rect x="24.82" y="62.08" width="28.54" height="5.84" fill="#d4314a"/>
<rect x="53.22" y="62.08" width="5.83" height="5.84" fill="#e04a40"/>
<rect x="58.90" y="62.08" width="34.22" height="5.84" fill="#ea5a38"/>
<rect x="92.97" y="62.08" width="5.83" height="5.84" fill="#e04a40"/>
<rect x="98.65" y="62.08" width="5.83" height="5.84" fill="#d4314a"/>
<rect x="104.33" y="62.08" width="5.83" height="5.84" fill="#c42a52"/>
<rect x="110.01" y="62.08" width="17.19" height="5.84" fill="#b02858"/>
<rect x="127.04" y="62.08" width="5.83" height="5.84" fill="#c42a52"/>
<rect x="132.72" y="62.08" width="5.83" height="5.84" fill="#e04a40"/>
<rect x="13.47" y="67.76" width="5.83" height="5.84" fill="#f06d35"/>
<rect x="19.15" y="67.76" width="5.83" height="5.84" fill="#ea5a38"/>
<rect x="24.82" y="67.76" width="22.86" height="5.84" fill="#e04a40"/>
<rect x="47.54" y="67.76" width="5.83" height="5.84" fill="#ea5a38"/>
<rect x="53.22" y="67.76" width="34.22" height="5.84" fill="#f06d35"/>
<rect x="87.29" y="67.76" width="5.83" height="5.84" fill="#ea5a38"/>
<rect x="92.97" y="67.76" width="5.83" height="5.84" fill="#e04a40"/>
<rect x="98.65" y="67.76" width="5.83" height="5.84" fill="#d4314a"/>
<rect x="104.33" y="67.76" width="5.83" height="5.84" fill="#c42a52"/>
<rect x="110.01" y="67.76" width="17.19" height="5.84" fill="#b02858"/>
<rect x="127.04" y="67.76" width="5.83" height="5.84" fill="#d4314a"/>
<rect x="132.72" y="67.76" width="5.83" height="5.84" fill="#ea5a38"/>
<rect x="19.15" y="73.45" width="5.83" height="5.84" fill="#f0913c"/>
<rect x="24.82" y="73.45" width="22.86" height="5.84" fill="#f06d35"/>
<rect x="75.93" y="73.45" width="11.51" height="5.84" fill="#f0913c"/>
<rect x="87.29" y="73.45" width="5.83" height="5.84" fill="#f06d35"/>
<rect x="92.97" y="73.45" width="5.83" height="5.84" fill="#ea5a38"/>
<rect x="98.65" y="73.45" width="5.83" height="5.84" fill="#e04a40"/>
<rect x="104.33" y="73.45" width="5.83" height="5.84" fill="#c42a52"/>
<rect x="110.01" y="73.45" width="11.51" height="5.84" fill="#b02858"/>
<rect x="121.36" y="73.45" width="5.83" height="5.84" fill="#c42a52"/>
<rect x="127.04" y="73.45" width="5.83" height="5.84" fill="#d4314a"/>
<rect x="132.72" y="73.45" width="5.83" height="5.84" fill="#ea5a38"/>
<rect x="19.15" y="79.14" width="11.51" height="5.84" fill="#f0a146"/>
<rect x="81.61" y="79.14" width="11.51" height="5.84" fill="#f0913c"/>
<rect x="92.97" y="79.14" width="5.83" height="5.84" fill="#f06d35"/>
<rect x="98.65" y="79.14" width="5.83" height="5.84" fill="#e04a40"/>
<rect x="104.33" y="79.14" width="5.83" height="5.84" fill="#d4314a"/>
<rect x="110.01" y="79.14" width="11.51" height="5.84" fill="#c42a52"/>
<rect x="121.36" y="79.14" width="5.83" height="5.84" fill="#d4314a"/>
<rect x="127.04" y="79.14" width="5.83" height="5.84" fill="#e04a40"/>
<rect x="92.97" y="84.82" width="5.83" height="5.84" fill="#f0913c"/>
<rect x="98.65" y="84.82" width="5.83" height="5.84" fill="#f06d35"/>
<rect x="104.33" y="84.82" width="17.19" height="5.84" fill="#e04a40"/>
<rect x="121.36" y="84.82" width="11.51" height="5.84" fill="#ea5a38"/>
<rect x="98.65" y="90.51" width="5.83" height="5.84" fill="#f0913c"/>
<rect x="104.33" y="90.51" width="11.51" height="5.84" fill="#f06d35"/>
<rect x="115.68" y="90.51" width="11.51" height="5.84" fill="#f0913c"/>
<rect x="110.01" y="101.89" width="11.51" height="5.84" fill="#f0a146"/>
<rect x="115.68" y="107.57" width="5.83" height="5.84" fill="#f0a146"/>
</g>
<use href="#coast" fill="none" stroke="#000" stroke-width="0.6" stroke-linejoin="round"/>
<use href="#bord" fill="none" stroke="#111" stroke-width="0.65"/>
</g>
<rect x="0" y="0" width="148.6" height="113.8" fill="none" stroke="#111" stroke-width="0.75"/>
<text x="2.9" y="10.9" font-size="11">e</text>
<text x="2.2" y="110.4" font-size="9">Δ<tspan dx="1">:</tspan><tspan dx="2">3.25</tspan></text>
<rect x="2.2" y="101.1" width="7.6" height="0.9" fill="#000"/>
<text x="74.3" y="-4.2" font-size="10.85" text-anchor="middle" fill="#e02a2a">ACCESS1-0</text>
</g>
<g transform="translate(192.6 157.2)">
<g clip-path="url(#cp)">
<g shape-rendering="crispEdges">
<rect x="64.58" y="5.20" width="5.83" height="5.84" fill="#f0913c"/>
<rect x="70.25" y="5.20" width="5.83" height="5.84" fill="#f06d35"/>
<rect x="64.58" y="10.89" width="5.83" height="5.84" fill="#e04a40"/>
<rect x="70.25" y="10.89" width="5.83" height="5.84" fill="#d4314a"/>
<rect x="75.93" y="10.89" width="5.83" height="5.84" fill="#c42a52"/>
<rect x="81.61" y="10.89" width="5.83" height="5.84" fill="#b02858"/>
<rect x="98.65" y="10.89" width="5.83" height="5.84" fill="#b02858"/>
<rect x="104.33" y="10.89" width="5.83" height="5.84" fill="#ea5a38"/>
<rect x="47.54" y="16.58" width="11.51" height="5.84" fill="#c42a52"/>
<rect x="58.90" y="16.58" width="5.83" height="5.84" fill="#b02858"/>
<rect x="64.58" y="16.58" width="5.83" height="5.84" fill="#c02a80"/>
<rect x="70.25" y="16.58" width="11.51" height="5.84" fill="#b02858"/>
<rect x="98.65" y="16.58" width="5.83" height="5.84" fill="#b02a88"/>
<rect x="104.33" y="16.58" width="5.83" height="5.84" fill="#c42a52"/>
<rect x="110.01" y="16.58" width="5.83" height="5.84" fill="#f0913c"/>
<rect x="41.86" y="22.26" width="11.51" height="5.84" fill="#b02858"/>
<rect x="53.22" y="22.26" width="11.51" height="5.84" fill="#c02a80"/>
<rect x="64.58" y="22.26" width="5.83" height="5.84" fill="#b02a88"/>
<rect x="70.25" y="22.26" width="17.19" height="5.84" fill="#c02a80"/>
<rect x="87.29" y="22.26" width="5.83" height="5.84" fill="#b02a88"/>
<rect x="98.65" y="22.26" width="5.83" height="5.84" fill="#b02a88"/>
<rect x="104.33" y="22.26" width="5.83" height="5.84" fill="#b02858"/>
<rect x="110.01" y="22.26" width="5.83" height="5.84" fill="#ea5a38"/>
<rect x="36.18" y="27.95" width="5.83" height="5.84" fill="#b02858"/>
<rect x="41.86" y="27.95" width="22.86" height="5.84" fill="#c02a80"/>
<rect x="64.58" y="27.95" width="11.51" height="5.84" fill="#b02a88"/>
<rect x="75.93" y="27.95" width="17.19" height="5.84" fill="#c02a80"/>
<rect x="92.97" y="27.95" width="11.51" height="5.84" fill="#b02a88"/>
<rect x="104.33" y="27.95" width="5.83" height="5.84" fill="#c02a80"/>
<rect x="110.01" y="27.95" width="5.83" height="5.84" fill="#c42a52"/>
<rect x="24.82" y="33.64" width="11.51" height="5.84" fill="#c02a80"/>
<rect x="36.18" y="33.64" width="39.90" height="5.84" fill="#b02a88"/>
<rect x="75.93" y="33.64" width="17.19" height="5.84" fill="#c02a80"/>
<rect x="92.97" y="33.64" width="17.19" height="5.84" fill="#b02a88"/>
<rect x="110.01" y="33.64" width="5.83" height="5.84" fill="#c02a80"/>
<rect x="115.68" y="33.64" width="5.83" height="5.84" fill="#d4314a"/>
<rect x="121.36" y="33.64" width="5.83" height="5.84" fill="#ea5a38"/>
<rect x="13.47" y="39.33" width="5.83" height="5.84" fill="#c02a80"/>
<rect x="19.15" y="39.33" width="34.22" height="5.84" fill="#90267a"/>
<rect x="53.22" y="39.33" width="22.87" height="5.84" fill="#b02a88"/>
<rect x="75.93" y="39.33" width="11.51" height="5.84" fill="#c02a80"/>
<rect x="87.29" y="39.33" width="11.51" height="5.84" fill="#b02a88"/>
<rect x="98.65" y="39.33" width="11.51" height="5.84" fill="#90267a"/>
<rect x="110.01" y="39.33" width="5.83" height="5.84" fill="#b02a88"/>
<rect x="115.68" y="39.33" width="5.83" height="5.84" fill="#b02858"/>
<rect x="121.36" y="39.33" width="5.83" height="5.84" fill="#d4314a"/>
<rect x="7.79" y="45.01" width="5.83" height="5.84" fill="#ea5a38"/>
<rect x="13.47" y="45.01" width="5.83" height="5.84" fill="#c02a80"/>
<rect x="19.15" y="45.01" width="39.90" height="5.84" fill="#90267a"/>
<rect x="58.90" y="45.01" width="17.19" height="5.84" fill="#b02a88"/>
<rect x="75.93" y="45.01" width="11.51" height="5.84" fill="#c02a80"/>
<rect x="87.29" y="45.01" width="11.51" height="5.84" fill="#b02a88"/>
<rect x="98.65" y="45.01" width="17.19" height="5.84" fill="#90267a"/>
<rect x="115.68" y="45.01" width="5.83" height="5.84" fill="#b02a88"/>
<rect x="121.36" y="45.01" width="5.83" height="5.84" fill="#b02858"/>
<rect x="127.04" y="45.01" width="5.83" height="5.84" fill="#c42a52"/>
<rect x="7.79" y="50.70" width="5.83" height="5.84" fill="#ea5a38"/>
<rect x="13.47" y="50.70" width="5.83" height="5.84" fill="#b02858"/>
<rect x="19.15" y="50.70" width="39.90" height="5.84" fill="#b02a88"/>
<rect x="58.90" y="50.70" width="39.90" height="5.84" fill="#c02a80"/>
<rect x="98.65" y="50.70" width="22.87" height="5.84" fill="#b02a88"/>
<rect x="121.36" y="50.70" width="5.83" height="5.84" fill="#c02a80"/>
<rect x="127.04" y="50.70" width="5.83" height="5.84" fill="#b02858"/>
<rect x="132.72" y="50.70" width="5.83" height="5.84" fill="#e04a40"/>
<rect x="13.47" y="56.39" width="5.83" height="5.84" fill="#c42a52"/>
<rect x="19.15" y="56.39" width="85.33" height="5.84" fill="#b02858"/>
<rect x="104.33" y="56.39" width="22.87" height="5.84" fill="#c02a80"/>
<rect x="127.04" y="56.39" width="5.83" height="5.84" fill="#b02858"/>
<rect x="132.72" y="56.39" width="5.83" height="5.84" fill="#e04a40"/>
<rect x="13.47" y="62.08" width="5.83" height="5.84" fill="#e04a40"/>
<rect x="19.15" y="62.08" width="73.97" height="5.84" fill="#d4314a"/>
<rect x="92.97" y="62.08" width="5.83" height="5.84" fill="#c42a52"/>
<rect x="98.65" y="62.08" width="11.51" height="5.84" fill="#b02858"/>
<rect x="110.01" y="62.08" width="17.19" height="5.84" fill="#c02a80"/>
<rect x="127.04" y="62.08" width="5.83" height="5.84" fill="#b02858"/>
<rect x="132.72" y="62.08" width="5.83" height="5.84" fill="#d4314a"/>
<rect x="13.47" y="67.76" width="22.87" height="5.84" fill="#f06d35"/>
<rect x="36.18" y="67.76" width="28.54" height="5.84" fill="#ea5a38"/>
<rect x="64.58" y="67.76" width="11.51" height="5.84" fill="#f06d35"/>
<rect x="75.93" y="67.76" width="11.51" height="5.84" fill="#ea5a38"/>
<rect x="87.29" y="67.76" width="5.83" height="5.84" fill="#e04a40"/>
<rect x="92.97" y="67.76" width="5.83" height="5.84" fill="#d4314a"/>
<rect x="98.65" y="67.76" width="5.83" height="5.84" fill="#c42a52"/>
<rect x="104.33" y="67.76" width="5.83" height="5.84" fill="#b02858"/>
<rect x="110.01" y="67.76" width="17.19" height="5.84" fill="#c02a80"/>
<rect x="127.04" y="67.76" width="5.83" height="5.84" fill="#c42a52"/>
<rect x="132.72" y="67.76" width="5.83" height="5.84" fill="#e04a40"/>
<rect x="19.15" y="73.45" width="22.87" height="5.84" fill="#f0a146"/>
<rect x="41.86" y="73.45" width="5.83" height="5.84" fill="#f0913c"/>
<rect x="75.93" y="73.45" width="11.51" height="5.84" fill="#f0913c"/>
<rect x="87.29" y="73.45" width="5.83" height="5.84" fill="#f06d35"/>
<rect x="92.97" y="73.45" width="5.83" height="5.84" fill="#ea5a38"/>
<rect x="98.65" y="73.45" width="5.83" height="5.84" fill="#d4314a"/>
<rect x="104.33" y="73.45" width="5.83" height="5.84" fill="#b02858"/>
<rect x="110.01" y="73.45" width="11.51" height="5.84" fill="#c02a80"/>
<rect x="121.36" y="73.45" width="5.83" height="5.84" fill="#b02858"/>
<rect x="127.04" y="73.45" width="5.83" height="5.84" fill="#c42a52"/>
<rect x="132.72" y="73.45" width="5.83" height="5.84" fill="#e04a40"/>
<rect x="19.15" y="79.14" width="11.51" height="5.84" fill="#f0d478"/>
<rect x="81.61" y="79.14" width="11.51" height="5.84" fill="#f0a146"/>
<rect x="92.97" y="79.14" width="5.83" height="5.84" fill="#f06d35"/>
<rect x="98.65" y="79.14" width="5.83" height="5.84" fill="#e04a40"/>
<rect x="104.33" y="79.14" width="5.83" height="5.84" fill="#c42a52"/>
<rect x="110.01" y="79.14" width="11.51" height="5.84" fill="#b02858"/>
<rect x="121.36" y="79.14" width="5.83" height="5.84" fill="#c42a52"/>
<rect x="127.04" y="79.14" width="5.83" height="5.84" fill="#e04a40"/>
<rect x="92.97" y="84.82" width="5.83" height="5.84" fill="#f0a146"/>
<rect x="98.65" y="84.82" width="5.83" height="5.84" fill="#ea5a38"/>
<rect x="104.33" y="84.82" width="5.83" height="5.84" fill="#e04a40"/>
<rect x="110.01" y="84.82" width="5.83" height="5.84" fill="#d4314a"/>
<rect x="115.68" y="84.82" width="11.51" height="5.84" fill="#e04a40"/>
<rect x="127.04" y="84.82" width="5.83" height="5.84" fill="#ea5a38"/>
<rect x="98.65" y="90.51" width="5.83" height="5.84" fill="#f0913c"/>
<rect x="104.33" y="90.51" width="11.51" height="5.84" fill="#f06d35"/>
<rect x="115.68" y="90.51" width="11.51" height="5.84" fill="#f0913c"/>
<rect x="110.01" y="101.89" width="11.51" height="5.84" fill="#f0d478"/>
<rect x="115.68" y="107.57" width="5.83" height="5.84" fill="#f3e592"/>
</g>
<use href="#coast" fill="none" stroke="#000" stroke-width="0.6" stroke-linejoin="round"/>
<use href="#bord" fill="none" stroke="#111" stroke-width="0.65"/>
</g>
<rect x="0" y="0" width="148.6" height="113.8" fill="none" stroke="#111" stroke-width="0.75"/>
<text x="2.9" y="10.9" font-size="11">f</text>
<text x="2.2" y="110.4" font-size="9">Δ<tspan dx="1">:</tspan><tspan dx="2">3.60</tspan></text>
<rect x="2.2" y="101.1" width="7.6" height="0.9" fill="#000"/>
<text x="74.3" y="-4.2" font-size="10.85" text-anchor="middle" fill="#e02a2a">ACCESS1-3</text>
</g>
<g transform="translate(359.3 157.2)">
<g clip-path="url(#cp)">
<g shape-rendering="crispEdges">
<rect x="64.58" y="5.20" width="11.51" height="5.84" fill="#f06d35"/>
<rect x="64.58" y="10.89" width="22.87" height="5.84" fill="#e04a40"/>
<rect x="98.65" y="10.89" width="5.83" height="5.84" fill="#f06d35"/>
<rect x="104.33" y="10.89" width="5.83" height="5.84" fill="#f0913c"/>
<rect x="47.54" y="16.58" width="5.83" height="5.84" fill="#e04a40"/>
<rect x="53.22" y="16.58" width="5.83" height="5.84" fill="#d4314a"/>
<rect x="58.90" y="16.58" width="22.86" height="5.84" fill="#c42a52"/>
<rect x="98.65" y="16.58" width="11.51" height="5.84" fill="#ea5a38"/>
<rect x="110.01" y="16.58" width="5.83" height="5.84" fill="#f06d35"/>
<rect x="41.86" y="22.26" width="5.83" height="5.84" fill="#d4314a"/>
<rect x="47.54" y="22.26" width="11.51" height="5.84" fill="#c42a52"/>
<rect x="58.90" y="22.26" width="28.54" height="5.84" fill="#b02858"/>
<rect x="87.29" y="22.26" width="5.83" height="5.84" fill="#c42a52"/>
<rect x="98.65" y="22.26" width="11.51" height="5.84" fill="#d4314a"/>
<rect x="110.01" y="22.26" width="5.83" height="5.84" fill="#e04a40"/>
<rect x="36.18" y="27.95" width="5.83" height="5.84" fill="#c02a80"/>
<rect x="41.86" y="27.95" width="11.51" height="5.84" fill="#b02858"/>
<rect x="53.22" y="27.95" width="39.90" height="5.84" fill="#c02a80"/>
<rect x="92.97" y="27.95" width="11.51" height="5.84" fill="#b02858"/>
<rect x="104.33" y="27.95" width="11.51" height="5.84" fill="#c42a52"/>
<rect x="24.82" y="33.64" width="5.83" height="5.84" fill="#b02a88"/>
<rect x="30.50" y="33.64" width="11.51" height="5.84" fill="#90267a"/>
<rect x="41.86" y="33.64" width="11.51" height="5.84" fill="#b02a88"/>
<rect x="53.22" y="33.64" width="17.19" height="5.84" fill="#90267a"/>
<rect x="70.25" y="33.64" width="34.22" height="5.84" fill="#b02a88"/>
<rect x="104.33" y="33.64" width="5.83" height="5.84" fill="#c02a80"/>
<rect x="110.01" y="33.64" width="5.83" height="5.84" fill="#b02858"/>
<rect x="115.68" y="33.64" width="5.83" height="5.84" fill="#c42a52"/>
<rect x="121.36" y="33.64" width="5.83" height="5.84" fill="#d4314a"/>
<rect x="13.47" y="39.33" width="5.83" height="5.84" fill="#c02a80"/>
<rect x="19.15" y="39.33" width="85.33" height="5.84" fill="#90267a"/>
<rect x="104.33" y="39.33" width="5.83" height="5.84" fill="#b02a88"/>
<rect x="110.01" y="39.33" width="5.83" height="5.84" fill="#c02a80"/>
<rect x="115.68" y="39.33" width="5.83" height="5.84" fill="#b02858"/>
<rect x="121.36" y="39.33" width="5.83" height="5.84" fill="#c42a52"/>
<rect x="7.79" y="45.01" width="5.83" height="5.84" fill="#e04a40"/>
<rect x="13.47" y="45.01" width="5.83" height="5.84" fill="#c02a80"/>
<rect x="19.15" y="45.01" width="85.33" height="5.84" fill="#90267a"/>
<rect x="104.33" y="45.01" width="5.83" height="5.84" fill="#b02a88"/>
<rect x="110.01" y="45.01" width="17.19" height="5.84" fill="#c02a80"/>
<rect x="127.04" y="45.01" width="5.83" height="5.84" fill="#b02858"/>
<rect x="7.79" y="50.70" width="5.83" height="5.84" fill="#e04a40"/>
<rect x="13.47" y="50.70" width="5.83" height="5.84" fill="#c02a80"/>
<rect x="19.15" y="50.70" width="85.33" height="5.84" fill="#90267a"/>
<rect x="104.33" y="50.70" width="11.51" height="5.84" fill="#b02a88"/>
<rect x="115.68" y="50.70" width="11.51" height="5.84" fill="#c02a80"/>
<rect x="127.04" y="50.70" width="5.83" height="5.84" fill="#b02858"/>
<rect x="132.72" y="50.70" width="5.83" height="5.84" fill="#d4314a"/>
<rect x="13.47" y="56.39" width="5.83" height="5.84" fill="#c02a80"/>
<rect x="19.15" y="56.39" width="39.90" height="5.84" fill="#90267a"/>
<rect x="58.90" y="56.39" width="51.26" height="5.84" fill="#b02a88"/>
<rect x="110.01" y="56.39" width="17.19" height="5.84" fill="#c02a80"/>
<rect x="127.04" y="56.39" width="5.83" height="5.84" fill="#b02858"/>
<rect x="132.72" y="56.39" width="5.83" height="5.84" fill="#d4314a"/>
<rect x="13.47" y="62.08" width="5.83" height="5.84" fill="#b02858"/>
<rect x="19.15" y="62.08" width="11.51" height="5.84" fill="#b02a88"/>
<rect x="30.50" y="62.08" width="5.83" height="5.84" fill="#c02a80"/>
<rect x="36.18" y="62.08" width="17.19" height="5.84" fill="#b02a88"/>
<rect x="53.22" y="62.08" width="5.83" height="5.84" fill="#c02a80"/>
<rect x="58.90" y="62.08" width="22.86" height="5.84" fill="#b02858"/>
<rect x="81.61" y="62.08" width="11.51" height="5.84" fill="#c02a80"/>
<rect x="92.97" y="62.08" width="17.19" height="5.84" fill="#b02a88"/>
<rect x="110.01" y="62.08" width="17.19" height="5.84" fill="#c02a80"/>
<rect x="127.04" y="62.08" width="5.83" height="5.84" fill="#b02858"/>
<rect x="132.72" y="62.08" width="5.83" height="5.84" fill="#d4314a"/>
<rect x="13.47" y="67.76" width="5.83" height="5.84" fill="#e04a40"/>
<rect x="19.15" y="67.76" width="39.90" height="5.84" fill="#c42a52"/>
<rect x="58.90" y="67.76" width="11.51" height="5.84" fill="#d4314a"/>
<rect x="70.25" y="67.76" width="17.19" height="5.84" fill="#c42a52"/>
<rect x="87.29" y="67.76" width="5.83" height="5.84" fill="#b02858"/>
<rect x="92.97" y="67.76" width="34.22" height="5.84" fill="#c02a80"/>
<rect x="127.04" y="67.76" width="5.83" height="5.84" fill="#b02858"/>
<rect x="132.72" y="67.76" width="5.83" height="5.84" fill="#d4314a"/>
<rect x="19.15" y="73.45" width="11.51" height="5.84" fill="#e04a40"/>
<rect x="30.50" y="73.45" width="17.19" height="5.84" fill="#ea5a38"/>
<rect x="75.93" y="73.45" width="11.51" height="5.84" fill="#d4314a"/>
<rect x="87.29" y="73.45" width="5.83" height="5.84" fill="#c42a52"/>
<rect x="92.97" y="73.45" width="5.83" height="5.84" fill="#b02858"/>
<rect x="98.65" y="73.45" width="17.19" height="5.84" fill="#c02a80"/>
<rect x="115.68" y="73.45" width="11.51" height="5.84" fill="#b02858"/>
<rect x="127.04" y="73.45" width="5.83" height="5.84" fill="#c42a52"/>
<rect x="132.72" y="73.45" width="5.83" height="5.84" fill="#d4314a"/>
<rect x="19.15" y="79.14" width="11.51" height="5.84" fill="#f06d35"/>
<rect x="81.61" y="79.14" width="11.51" height="5.84" fill="#d4314a"/>
<rect x="92.97" y="79.14" width="5.83" height="5.84" fill="#c42a52"/>
<rect x="98.65" y="79.14" width="5.83" height="5.84" fill="#b02858"/>
<rect x="104.33" y="79.14" width="11.51" height="5.84" fill="#c02a80"/>
<rect x="115.68" y="79.14" width="5.83" height="5.84" fill="#b02858"/>
<rect x="121.36" y="79.14" width="5.83" height="5.84" fill="#c42a52"/>
<rect x="127.04" y="79.14" width="5.83" height="5.84" fill="#d4314a"/>
<rect x="92.97" y="84.82" width="11.51" height="5.84" fill="#d4314a"/>
<rect x="104.33" y="84.82" width="11.51" height="5.84" fill="#c42a52"/>
<rect x="115.68" y="84.82" width="11.51" height="5.84" fill="#d4314a"/>
<rect x="127.04" y="84.82" width="5.83" height="5.84" fill="#e04a40"/>
<rect x="98.65" y="90.51" width="17.19" height="5.84" fill="#e04a40"/>
<rect x="115.68" y="90.51" width="11.51" height="5.84" fill="#ea5a38"/>
<rect x="110.01" y="101.89" width="11.51" height="5.84" fill="#f06d35"/>
<rect x="115.68" y="107.57" width="5.83" height="5.84" fill="#f06d35"/>
</g>
<use href="#coast" fill="none" stroke="#000" stroke-width="0.6" stroke-linejoin="round"/>
<use href="#bord" fill="none" stroke="#111" stroke-width="0.65"/>
</g>
<rect x="0" y="0" width="148.6" height="113.8" fill="none" stroke="#111" stroke-width="0.75"/>
<text x="2.9" y="10.9" font-size="11">g</text>
<text x="2.2" y="110.4" font-size="9">Δ<tspan dx="1">:</tspan><tspan dx="2">3.76</tspan></text>
<rect x="2.2" y="101.1" width="7.6" height="0.9" fill="#000"/>
<text x="74.3" y="-4.2" font-size="10.85" text-anchor="middle" fill="#e02a2a">CCCma-CanESM2</text>
</g>
<g transform="translate(525.9 157.2)">
<g clip-path="url(#cp)">
<g shape-rendering="crispEdges" clip-path="url(#land)">
<rect x="103.03" y="2.60" width="3.40" height="3.40" fill="#eeb052"/>
<rect x="64.09" y="5.85" width="13.13" height="3.40" fill="#f0913c"/>
<rect x="103.03" y="5.85" width="3.40" height="3.40" fill="#eeb052"/>
<rect x="64.09" y="9.10" width="3.40" height="3.40" fill="#f0913c"/>
<rect x="67.33" y="9.10" width="19.62" height="3.40" fill="#f06d35"/>
<rect x="99.78" y="9.10" width="3.40" height="3.40" fill="#f0a146"/>
<rect x="103.03" y="9.10" width="6.64" height="3.40" fill="#eeb052"/>
<rect x="51.11" y="12.35" width="6.64" height="3.40" fill="#f06d35"/>
<rect x="60.84" y="12.35" width="13.13" height="3.40" fill="#f06d35"/>
<rect x="73.82" y="12.35" width="6.64" height="3.40" fill="#ea5a38"/>
<rect x="80.31" y="12.35" width="6.64" height="3.40" fill="#f06d35"/>
<rect x="99.78" y="12.35" width="9.88" height="3.40" fill="#f0a146"/>
<rect x="47.86" y="15.60" width="13.13" height="3.40" fill="#f06d35"/>
<rect x="60.84" y="15.60" width="26.11" height="3.40" fill="#ea5a38"/>
<rect x="99.78" y="15.60" width="3.40" height="3.40" fill="#f0913c"/>
<rect x="103.03" y="15.60" width="13.13" height="3.40" fill="#f0a146"/>
<rect x="44.62" y="18.85" width="19.62" height="3.40" fill="#ea5a38"/>
<rect x="64.09" y="18.85" width="19.62" height="3.40" fill="#e04a40"/>
<rect x="83.56" y="18.85" width="3.40" height="3.40" fill="#ea5a38"/>
<rect x="99.78" y="18.85" width="6.64" height="3.40" fill="#f0913c"/>
<rect x="106.27" y="18.85" width="9.88" height="3.40" fill="#f0a146"/>
<rect x="38.13" y="22.10" width="13.13" height="3.40" fill="#e04a40"/>
<rect x="51.11" y="22.10" width="6.64" height="3.40" fill="#ea5a38"/>
<rect x="57.60" y="22.10" width="32.60" height="3.40" fill="#e04a40"/>
<rect x="90.05" y="22.10" width="3.40" height="3.40" fill="#ea5a38"/>
<rect x="99.78" y="22.10" width="3.40" height="3.40" fill="#f06d35"/>
<rect x="103.03" y="22.10" width="13.13" height="3.40" fill="#f0913c"/>
<rect x="38.13" y="25.35" width="9.88" height="3.40" fill="#d4314a"/>
<rect x="47.86" y="25.35" width="9.88" height="3.40" fill="#e04a40"/>
<rect x="57.60" y="25.35" width="26.11" height="3.40" fill="#d4314a"/>
<rect x="83.56" y="25.35" width="9.88" height="3.40" fill="#e04a40"/>
<rect x="93.29" y="25.35" width="9.88" height="3.40" fill="#ea5a38"/>
<rect x="103.03" y="25.35" width="6.64" height="3.40" fill="#f06d35"/>
<rect x="109.52" y="25.35" width="9.89" height="3.40" fill="#f0913c"/>
<rect x="34.88" y="28.60" width="55.31" height="3.40" fill="#d4314a"/>
<rect x="90.05" y="28.60" width="9.88" height="3.40" fill="#e04a40"/>
<rect x="99.78" y="28.60" width="9.88" height="3.40" fill="#ea5a38"/>
<rect x="109.52" y="28.60" width="9.89" height="3.40" fill="#f06d35"/>
<rect x="28.39" y="31.85" width="3.40" height="3.40" fill="#d4314a"/>
<rect x="31.64" y="31.85" width="39.09" height="3.40" fill="#c42a52"/>
<rect x="70.58" y="31.85" width="22.87" height="3.40" fill="#d4314a"/>
<rect x="93.29" y="31.85" width="13.13" height="3.40" fill="#e04a40"/>
<rect x="106.27" y="31.85" width="9.88" height="3.40" fill="#ea5a38"/>
<rect x="116.01" y="31.85" width="6.64" height="3.40" fill="#f06d35"/>
<rect x="18.66" y="35.10" width="6.64" height="3.40" fill="#d4314a"/>
<rect x="25.15" y="35.10" width="48.83" height="3.40" fill="#c42a52"/>
<rect x="73.82" y="35.10" width="29.35" height="3.40" fill="#d4314a"/>
<rect x="103.03" y="35.10" width="9.88" height="3.40" fill="#e04a40"/>
<rect x="112.76" y="35.10" width="6.64" height="3.40" fill="#ea5a38"/>
<rect x="119.25" y="35.10" width="3.39" height="3.40" fill="#f06d35"/>
<rect x="122.50" y="35.10" width="3.40" height="3.40" fill="#f0913c"/>
<rect x="12.17" y="38.35" width="3.39" height="3.40" fill="#e04a40"/>
<rect x="15.41" y="38.35" width="3.40" height="3.40" fill="#d4314a"/>
<rect x="18.66" y="38.35" width="13.13" height="3.40" fill="#c42a52"/>
<rect x="31.64" y="38.35" width="32.60" height="3.40" fill="#b02858"/>
<rect x="64.09" y="38.35" width="9.88" height="3.40" fill="#c42a52"/>
<rect x="73.82" y="38.35" width="32.60" height="3.40" fill="#d4314a"/>
<rect x="106.27" y="38.35" width="9.88" height="3.40" fill="#e04a40"/>
<rect x="116.01" y="38.35" width="3.40" height="3.40" fill="#ea5a38"/>
<rect x="119.25" y="38.35" width="6.64" height="3.40" fill="#f06d35"/>
<rect x="125.74" y="38.35" width="3.40" height="3.40" fill="#f0913c"/>
<rect x="8.92" y="41.60" width="3.40" height="3.40" fill="#f06d35"/>
<rect x="12.17" y="41.60" width="3.39" height="3.40" fill="#e04a40"/>
<rect x="15.41" y="41.60" width="3.40" height="3.40" fill="#d4314a"/>
<rect x="18.66" y="41.60" width="9.88" height="3.40" fill="#c42a52"/>
<rect x="28.39" y="41.60" width="6.64" height="3.40" fill="#b02858"/>
<rect x="34.88" y="41.60" width="6.64" height="3.40" fill="#c02a80"/>
<rect x="41.37" y="41.60" width="22.87" height="3.40" fill="#b02858"/>
<rect x="64.09" y="41.60" width="9.88" height="3.40" fill="#c42a52"/>
<rect x="73.82" y="41.60" width="32.60" height="3.40" fill="#d4314a"/>
<rect x="106.27" y="41.60" width="9.88" height="3.40" fill="#e04a40"/>
<rect x="116.01" y="41.60" width="6.64" height="3.40" fill="#ea5a38"/>
<rect x="122.50" y="41.60" width="6.64" height="3.40" fill="#f06d35"/>
<rect x="128.99" y="41.60" width="3.40" height="3.40" fill="#f0913c"/>
<rect x="8.92" y="44.85" width="3.40" height="3.40" fill="#f0a146"/>
<rect x="12.17" y="44.85" width="3.39" height="3.40" fill="#ea5a38"/>
<rect x="15.41" y="44.85" width="3.40" height="3.40" fill="#d4314a"/>
<rect x="18.66" y="44.85" width="6.64" height="3.40" fill="#c42a52"/>
<rect x="25.15" y="44.85" width="6.64" height="3.40" fill="#b02858"/>
<rect x="31.64" y="44.85" width="13.13" height="3.40" fill="#c02a80"/>
<rect x="44.62" y="44.85" width="19.62" height="3.40" fill="#b02858"/>
<rect x="64.09" y="44.85" width="9.88" height="3.40" fill="#c42a52"/>
<rect x="73.82" y="44.85" width="9.88" height="3.40" fill="#d4314a"/>
<rect x="83.56" y="44.85" width="3.40" height="3.40" fill="#e04a40"/>
<rect x="86.80" y="44.85" width="19.62" height="3.40" fill="#d4314a"/>
<rect x="106.27" y="44.85" width="9.88" height="3.40" fill="#e04a40"/>
<rect x="116.01" y="44.85" width="9.88" height="3.40" fill="#ea5a38"/>
<rect x="125.74" y="44.85" width="6.64" height="3.40" fill="#f06d35"/>
<rect x="132.23" y="44.85" width="3.39" height="3.40" fill="#f0913c"/>
<rect x="8.92" y="48.10" width="3.40" height="3.40" fill="#f0a146"/>
<rect x="12.17" y="48.10" width="3.39" height="3.40" fill="#f06d35"/>
<rect x="15.41" y="48.10" width="3.40" height="3.40" fill="#d4314a"/>
<rect x="18.66" y="48.10" width="3.40" height="3.40" fill="#c42a52"/>
<rect x="21.90" y="48.10" width="9.88" height="3.40" fill="#b02858"/>
<rect x="31.64" y="48.10" width="13.13" height="3.40" fill="#c02a80"/>
<rect x="44.62" y="48.10" width="19.62" height="3.40" fill="#b02858"/>
<rect x="64.09" y="48.10" width="6.64" height="3.40" fill="#c42a52"/>
<rect x="70.58" y="48.10" width="6.64" height="3.40" fill="#d4314a"/>
<rect x="77.07" y="48.10" width="42.34" height="3.40" fill="#e04a40"/>
<rect x="119.25" y="48.10" width="9.88" height="3.40" fill="#ea5a38"/>
<rect x="128.99" y="48.10" width="6.64" height="3.40" fill="#f06d35"/>
<rect x="135.48" y="48.10" width="3.40" height="3.40" fill="#f0913c"/>
<rect x="8.92" y="51.35" width="3.40" height="3.40" fill="#f0913c"/>
<rect x="12.17" y="51.35" width="3.39" height="3.40" fill="#ea5a38"/>
<rect x="15.41" y="51.35" width="3.40" height="3.40" fill="#d4314a"/>
<rect x="18.66" y="51.35" width="3.40" height="3.40" fill="#c42a52"/>
<rect x="21.90" y="51.35" width="9.88" height="3.40" fill="#b02858"/>
<rect x="31.64" y="51.35" width="9.88" height="3.40" fill="#c02a80"/>
<rect x="41.37" y="51.35" width="19.62" height="3.40" fill="#b02858"/>
<rect x="60.84" y="51.35" width="6.64" height="3.40" fill="#c42a52"/>
<rect x="67.33" y="51.35" width="6.64" height="3.40" fill="#d4314a"/>
<rect x="73.82" y="51.35" width="52.07" height="3.40" fill="#e04a40"/>
<rect x="125.74" y="51.35" width="6.64" height="3.40" fill="#ea5a38"/>
<rect x="132.23" y="51.35" width="3.39" height="3.40" fill="#f06d35"/>
<rect x="135.48" y="51.35" width="6.64" height="3.40" fill="#f0913c"/>
<rect x="8.92" y="54.60" width="3.40" height="3.40" fill="#f0913c"/>
<rect x="12.17" y="54.60" width="3.39" height="3.40" fill="#ea5a38"/>
<rect x="15.41" y="54.60" width="3.40" height="3.40" fill="#d4314a"/>
<rect x="18.66" y="54.60" width="3.40" height="3.40" fill="#c42a52"/>
<rect x="21.90" y="54.60" width="29.35" height="3.40" fill="#b02858"/>
<rect x="51.11" y="54.60" width="13.13" height="3.40" fill="#c42a52"/>
<rect x="64.09" y="54.60" width="6.64" height="3.40" fill="#d4314a"/>
<rect x="70.58" y="54.60" width="6.64" height="3.40" fill="#e04a40"/>
<rect x="77.07" y="54.60" width="22.86" height="3.40" fill="#ea5a38"/>
<rect x="99.78" y="54.60" width="29.36" height="3.40" fill="#e04a40"/>
<rect x="128.99" y="54.60" width="3.40" height="3.40" fill="#ea5a38"/>
<rect x="132.23" y="54.60" width="6.64" height="3.40" fill="#f06d35"/>
<rect x="138.72" y="54.60" width="3.40" height="3.40" fill="#f0913c"/>
<rect x="8.92" y="57.85" width="3.40" height="3.40" fill="#f0913c"/>
<rect x="12.17" y="57.85" width="3.39" height="3.40" fill="#ea5a38"/>
<rect x="15.41" y="57.85" width="3.40" height="3.40" fill="#d4314a"/>
<rect x="18.66" y="57.85" width="9.88" height="3.40" fill="#c42a52"/>
<rect x="28.39" y="57.85" width="9.89" height="3.40" fill="#b02858"/>
<rect x="38.13" y="57.85" width="19.62" height="3.40" fill="#c42a52"/>
<rect x="57.60" y="57.85" width="9.89" height="3.40" fill="#d4314a"/>
<rect x="67.33" y="57.85" width="6.64" height="3.40" fill="#e04a40"/>
<rect x="73.82" y="57.85" width="42.34" height="3.40" fill="#ea5a38"/>
<rect x="116.01" y="57.85" width="16.38" height="3.40" fill="#e04a40"/>
<rect x="132.23" y="57.85" width="3.39" height="3.40" fill="#ea5a38"/>
<rect x="135.48" y="57.85" width="3.40" height="3.40" fill="#f06d35"/>
<rect x="138.72" y="57.85" width="3.40" height="3.40" fill="#f0913c"/>
<rect x="12.17" y="61.10" width="3.39" height="3.40" fill="#f06d35"/>
<rect x="15.41" y="61.10" width="3.40" height="3.40" fill="#e04a40"/>
<rect x="18.66" y="61.10" width="9.88" height="3.40" fill="#d4314a"/>
<rect x="28.39" y="61.10" width="9.89" height="3.40" fill="#c42a52"/>
<rect x="38.13" y="61.10" width="16.38" height="3.40" fill="#d4314a"/>
<rect x="54.35" y="61.10" width="9.88" height="3.40" fill="#e04a40"/>
<rect x="64.09" y="61.10" width="13.13" height="3.40" fill="#ea5a38"/>
<rect x="77.07" y="61.10" width="16.37" height="3.40" fill="#f06d35"/>
<rect x="93.29" y="61.10" width="22.87" height="3.40" fill="#ea5a38"/>
<rect x="116.01" y="61.10" width="6.64" height="3.40" fill="#e04a40"/>
<rect x="122.50" y="61.10" width="6.64" height="3.40" fill="#d4314a"/>
<rect x="128.99" y="61.10" width="6.64" height="3.40" fill="#e04a40"/>
<rect x="135.48" y="61.10" width="3.40" height="3.40" fill="#ea5a38"/>
<rect x="138.72" y="61.10" width="3.40" height="3.40" fill="#f06d35"/>
<rect x="12.17" y="64.35" width="3.39" height="3.40" fill="#f0913c"/>
<rect x="15.41" y="64.35" width="3.40" height="3.40" fill="#f06d35"/>
<rect x="18.66" y="64.35" width="3.40" height="3.40" fill="#ea5a38"/>
<rect x="21.90" y="64.35" width="26.11" height="3.40" fill="#e04a40"/>
<rect x="47.86" y="64.35" width="16.38" height="3.40" fill="#ea5a38"/>
<rect x="64.09" y="64.35" width="32.60" height="3.40" fill="#f06d35"/>
<rect x="96.54" y="64.35" width="19.62" height="3.40" fill="#ea5a38"/>
<rect x="116.01" y="64.35" width="6.64" height="3.40" fill="#e04a40"/>
<rect x="122.50" y="64.35" width="9.89" height="3.40" fill="#d4314a"/>
<rect x="132.23" y="64.35" width="3.39" height="3.40" fill="#e04a40"/>
<rect x="135.48" y="64.35" width="3.40" height="3.40" fill="#ea5a38"/>
<rect x="138.72" y="64.35" width="3.40" height="3.40" fill="#f06d35"/>
<rect x="15.41" y="67.60" width="6.64" height="3.40" fill="#f0913c"/>
<rect x="21.90" y="67.60" width="3.39" height="3.40" fill="#f06d35"/>
<rect x="25.15" y="67.60" width="19.62" height="3.40" fill="#ea5a38"/>
<rect x="44.62" y="67.60" width="13.13" height="3.40" fill="#f06d35"/>
<rect x="57.60" y="67.60" width="29.36" height="3.40" fill="#f0913c"/>
<rect x="86.80" y="67.60" width="16.37" height="3.40" fill="#f06d35"/>
<rect x="103.03" y="67.60" width="13.13" height="3.40" fill="#ea5a38"/>
<rect x="116.01" y="67.60" width="6.64" height="3.40" fill="#e04a40"/>
<rect x="122.50" y="67.60" width="9.89" height="3.40" fill="#d4314a"/>
<rect x="132.23" y="67.60" width="3.39" height="3.40" fill="#e04a40"/>
<rect x="135.48" y="67.60" width="3.40" height="3.40" fill="#ea5a38"/>
<rect x="138.72" y="67.60" width="3.40" height="3.40" fill="#f06d35"/>
<rect x="15.41" y="70.85" width="6.64" height="3.40" fill="#f0a146"/>
<rect x="21.90" y="70.85" width="29.35" height="3.40" fill="#f0913c"/>
<rect x="51.11" y="70.85" width="19.62" height="3.40" fill="#f0a146"/>
<rect x="70.58" y="70.85" width="22.87" height="3.40" fill="#f0913c"/>
<rect x="93.29" y="70.85" width="13.13" height="3.40" fill="#f06d35"/>
<rect x="106.27" y="70.85" width="13.13" height="3.40" fill="#ea5a38"/>
<rect x="119.25" y="70.85" width="13.13" height="3.40" fill="#e04a40"/>
<rect x="132.23" y="70.85" width="6.64" height="3.40" fill="#ea5a38"/>
<rect x="15.41" y="74.10" width="9.88" height="3.40" fill="#eeb052"/>
<rect x="25.15" y="74.10" width="19.62" height="3.40" fill="#f0a146"/>
<rect x="44.62" y="74.10" width="13.13" height="3.40" fill="#eeb052"/>
<rect x="73.82" y="74.10" width="13.13" height="3.40" fill="#f0a146"/>
<rect x="86.80" y="74.10" width="9.88" height="3.40" fill="#f0913c"/>
<rect x="96.54" y="74.10" width="16.37" height="3.40" fill="#f06d35"/>
<rect x="112.76" y="74.10" width="22.86" height="3.40" fill="#ea5a38"/>
<rect x="135.48" y="74.10" width="3.40" height="3.40" fill="#f06d35"/>
<rect x="15.41" y="77.35" width="3.40" height="3.40" fill="#f0d478"/>
<rect x="18.66" y="77.35" width="13.13" height="3.40" fill="#ecbd5e"/>
<rect x="31.64" y="77.35" width="6.64" height="3.40" fill="#eeb052"/>
<rect x="38.13" y="77.35" width="9.88" height="3.40" fill="#ecbd5e"/>
<rect x="77.07" y="77.35" width="6.64" height="3.40" fill="#eeb052"/>
<rect x="83.56" y="77.35" width="9.88" height="3.40" fill="#f0a146"/>
<rect x="93.29" y="77.35" width="9.88" height="3.40" fill="#f0913c"/>
<rect x="103.03" y="77.35" width="32.60" height="3.40" fill="#f06d35"/>
<rect x="15.41" y="80.60" width="6.64" height="3.40" fill="#f3e592"/>
<rect x="21.90" y="80.60" width="9.88" height="3.40" fill="#f0d478"/>
<rect x="80.31" y="80.60" width="9.88" height="3.40" fill="#eeb052"/>
<rect x="90.05" y="80.60" width="6.64" height="3.40" fill="#f0a146"/>
<rect x="96.54" y="80.60" width="13.13" height="3.40" fill="#f0913c"/>
<rect x="109.52" y="80.60" width="9.89" height="3.40" fill="#f06d35"/>
<rect x="119.25" y="80.60" width="16.37" height="3.40" fill="#f0913c"/>
<rect x="21.90" y="83.85" width="3.39" height="3.40" fill="#f1f7a2"/>
<rect x="83.56" y="83.85" width="3.40" height="3.40" fill="#ecbd5e"/>
<rect x="86.80" y="83.85" width="9.88" height="3.40" fill="#eeb052"/>
<rect x="96.54" y="83.85" width="6.64" height="3.40" fill="#f0a146"/>
<rect x="103.03" y="83.85" width="19.62" height="3.40" fill="#f0913c"/>
<rect x="122.50" y="83.85" width="9.89" height="3.40" fill="#f0a146"/>
<rect x="86.80" y="87.10" width="3.39" height="3.40" fill="#ecbd5e"/>
<rect x="93.29" y="87.10" width="6.64" height="3.40" fill="#eeb052"/>
<rect x="99.78" y="87.10" width="16.38" height="3.40" fill="#f0a146"/>
<rect x="116.01" y="87.10" width="16.38" height="3.40" fill="#eeb052"/>
<rect x="93.29" y="90.35" width="6.64" height="3.40" fill="#ecbd5e"/>
<rect x="99.78" y="90.35" width="13.13" height="3.40" fill="#eeb052"/>
<rect x="112.76" y="90.35" width="13.13" height="3.40" fill="#ecbd5e"/>
<rect x="125.74" y="90.35" width="3.40" height="3.40" fill="#eeb052"/>
<rect x="99.78" y="93.60" width="9.88" height="3.40" fill="#ecbd5e"/>
<rect x="109.52" y="93.60" width="13.13" height="3.40" fill="#f0d478"/>
<rect x="109.52" y="100.10" width="16.38" height="3.40" fill="#f3e592"/>
<rect x="109.52" y="103.35" width="3.40" height="3.40" fill="#f1f7a2"/>
<rect x="112.76" y="103.35" width="13.13" height="3.40" fill="#f3e592"/>
<rect x="112.76" y="106.60" width="13.13" height="3.40" fill="#f1f7a2"/>
<rect x="116.01" y="109.85" width="3.40" height="3.40" fill="#f1f7a2"/>
</g>
<use href="#coast" fill="none" stroke="#000" stroke-width="0.6" stroke-linejoin="round"/>
<use href="#bord" fill="none" stroke="#111" stroke-width="0.65"/>
</g>
<rect x="0" y="0" width="148.6" height="113.8" fill="none" stroke="#111" stroke-width="0.75"/>
<text x="2.9" y="10.9" font-size="11">h</text>
<text x="2.2" y="110.4" font-size="9">Δ<tspan dx="1">:</tspan><tspan dx="2">3.01</tspan></text>
<rect x="2.2" y="101.1" width="7.6" height="0.9" fill="#000"/>
<text x="74.3" y="-4.2" font-size="10.85" text-anchor="middle" fill="#3b7cbe">ACCESS-ESM1-5</text>
</g>
<g transform="translate(26.0 301.2)">
<g clip-path="url(#cp)">
<g shape-rendering="crispEdges" clip-path="url(#land)">
<rect x="64.74" y="4.88" width="9.24" height="2.42" fill="#f0a146"/>
<rect x="103.35" y="4.88" width="2.42" height="2.42" fill="#f0a146"/>
<rect x="64.74" y="7.15" width="4.69" height="2.42" fill="#f0a146"/>
<rect x="71.55" y="7.15" width="6.96" height="2.42" fill="#f0a146"/>
<rect x="82.91" y="7.15" width="2.42" height="2.42" fill="#f0a146"/>
<rect x="101.08" y="7.15" width="6.96" height="2.42" fill="#f0a146"/>
<rect x="64.74" y="9.43" width="22.87" height="2.42" fill="#f0a146"/>
<rect x="101.08" y="9.43" width="6.96" height="2.42" fill="#f0a146"/>
<rect x="62.47" y="11.70" width="25.14" height="2.42" fill="#f0a146"/>
<rect x="101.08" y="11.70" width="6.96" height="2.42" fill="#f0913c"/>
<rect x="51.11" y="13.98" width="6.96" height="2.42" fill="#f0a146"/>
<rect x="62.47" y="13.98" width="2.42" height="2.42" fill="#f0a146"/>
<rect x="64.74" y="13.98" width="22.87" height="2.42" fill="#f0913c"/>
<rect x="101.08" y="13.98" width="9.24" height="2.42" fill="#f0913c"/>
<rect x="46.57" y="16.25" width="13.78" height="2.42" fill="#f0a146"/>
<rect x="62.47" y="16.25" width="25.14" height="2.42" fill="#f0913c"/>
<rect x="101.08" y="16.25" width="13.78" height="2.42" fill="#f0913c"/>
<rect x="46.57" y="18.53" width="13.78" height="2.42" fill="#f0a146"/>
<rect x="60.19" y="18.53" width="25.14" height="2.42" fill="#f0913c"/>
<rect x="101.08" y="18.53" width="13.78" height="2.42" fill="#f0913c"/>
<rect x="44.29" y="20.80" width="11.51" height="2.43" fill="#f0a146"/>
<rect x="55.65" y="20.80" width="34.22" height="2.43" fill="#f0913c"/>
<rect x="98.81" y="20.80" width="16.05" height="2.43" fill="#f0913c"/>
<rect x="37.48" y="23.07" width="16.05" height="2.43" fill="#f0a146"/>
<rect x="53.38" y="23.07" width="22.86" height="2.43" fill="#f0913c"/>
<rect x="76.10" y="23.07" width="6.96" height="2.43" fill="#f06d35"/>
<rect x="82.91" y="23.07" width="2.42" height="2.43" fill="#f0913c"/>
<rect x="85.18" y="23.07" width="4.69" height="2.43" fill="#f06d35"/>
<rect x="89.72" y="23.07" width="4.69" height="2.43" fill="#f0913c"/>
<rect x="98.81" y="23.07" width="18.32" height="2.43" fill="#f0913c"/>
<rect x="37.48" y="25.35" width="13.78" height="2.43" fill="#f0a146"/>
<rect x="51.11" y="25.35" width="18.32" height="2.43" fill="#f0913c"/>
<rect x="69.28" y="25.35" width="43.31" height="2.43" fill="#f06d35"/>
<rect x="112.44" y="25.35" width="4.69" height="2.43" fill="#f0913c"/>
<rect x="37.48" y="27.62" width="11.51" height="2.43" fill="#f0a146"/>
<rect x="48.84" y="27.62" width="18.32" height="2.43" fill="#f0913c"/>
<rect x="67.01" y="27.62" width="16.05" height="2.43" fill="#f06d35"/>
<rect x="82.91" y="27.62" width="2.42" height="2.43" fill="#ea5a38"/>
<rect x="85.18" y="27.62" width="29.68" height="2.43" fill="#f06d35"/>
<rect x="114.71" y="27.62" width="2.42" height="2.43" fill="#f0913c"/>
<rect x="35.21" y="29.90" width="11.51" height="2.43" fill="#f0a146"/>
<rect x="46.57" y="29.90" width="18.32" height="2.43" fill="#f0913c"/>
<rect x="64.74" y="29.90" width="11.51" height="2.43" fill="#f06d35"/>
<rect x="76.10" y="29.90" width="16.05" height="2.43" fill="#ea5a38"/>
<rect x="92.00" y="29.90" width="22.87" height="2.43" fill="#f06d35"/>
<rect x="114.71" y="29.90" width="4.69" height="2.43" fill="#f0913c"/>
<rect x="32.94" y="32.17" width="6.96" height="2.43" fill="#f0a146"/>
<rect x="39.75" y="32.17" width="20.59" height="2.43" fill="#f0913c"/>
<rect x="60.19" y="32.17" width="13.78" height="2.43" fill="#f06d35"/>
<rect x="73.82" y="32.17" width="31.95" height="2.43" fill="#ea5a38"/>
<rect x="105.62" y="32.17" width="11.51" height="2.43" fill="#f06d35"/>
<rect x="116.98" y="32.17" width="4.69" height="2.43" fill="#f0913c"/>
<rect x="23.85" y="34.45" width="4.69" height="2.43" fill="#f0a146"/>
<rect x="28.39" y="34.45" width="29.68" height="2.43" fill="#f0913c"/>
<rect x="57.92" y="34.45" width="13.78" height="2.43" fill="#f06d35"/>
<rect x="71.55" y="34.45" width="36.49" height="2.43" fill="#ea5a38"/>
<rect x="107.90" y="34.45" width="9.24" height="2.43" fill="#f06d35"/>
<rect x="116.98" y="34.45" width="9.24" height="2.43" fill="#f0913c"/>
<rect x="17.04" y="36.73" width="6.96" height="2.43" fill="#f0a146"/>
<rect x="23.85" y="36.73" width="29.68" height="2.43" fill="#f0913c"/>
<rect x="53.38" y="36.73" width="16.05" height="2.43" fill="#f06d35"/>
<rect x="69.28" y="36.73" width="41.04" height="2.43" fill="#ea5a38"/>
<rect x="110.17" y="36.73" width="9.24" height="2.43" fill="#f06d35"/>
<rect x="119.25" y="36.73" width="9.24" height="2.43" fill="#f0913c"/>
<rect x="14.76" y="39.00" width="6.96" height="2.43" fill="#f0a146"/>
<rect x="21.58" y="39.00" width="25.14" height="2.43" fill="#f0913c"/>
<rect x="46.57" y="39.00" width="20.59" height="2.43" fill="#f06d35"/>
<rect x="67.01" y="39.00" width="18.32" height="2.43" fill="#ea5a38"/>
<rect x="85.18" y="39.00" width="11.51" height="2.43" fill="#e04a40"/>
<rect x="96.54" y="39.00" width="16.05" height="2.43" fill="#ea5a38"/>
<rect x="112.44" y="39.00" width="6.96" height="2.43" fill="#f06d35"/>
<rect x="119.25" y="39.00" width="9.24" height="2.43" fill="#f0913c"/>
<rect x="10.22" y="41.27" width="9.24" height="2.43" fill="#f0a146"/>
<rect x="19.31" y="41.27" width="18.32" height="2.43" fill="#f0913c"/>
<rect x="37.48" y="41.27" width="27.41" height="2.43" fill="#f06d35"/>
<rect x="64.74" y="41.27" width="20.59" height="2.43" fill="#ea5a38"/>
<rect x="85.18" y="41.27" width="18.32" height="2.43" fill="#e04a40"/>
<rect x="103.35" y="41.27" width="9.24" height="2.43" fill="#ea5a38"/>
<rect x="112.44" y="41.27" width="9.24" height="2.43" fill="#f06d35"/>
<rect x="121.53" y="41.27" width="11.51" height="2.43" fill="#f0913c"/>
<rect x="10.22" y="43.55" width="9.24" height="2.43" fill="#f0a146"/>
<rect x="19.31" y="43.55" width="11.51" height="2.43" fill="#f0913c"/>
<rect x="30.67" y="43.55" width="29.68" height="2.43" fill="#f06d35"/>
<rect x="60.19" y="43.55" width="27.41" height="2.43" fill="#ea5a38"/>
<rect x="87.45" y="43.55" width="18.32" height="2.43" fill="#e04a40"/>
<rect x="105.62" y="43.55" width="9.24" height="2.43" fill="#ea5a38"/>
<rect x="114.71" y="43.55" width="9.24" height="2.43" fill="#f06d35"/>
<rect x="123.80" y="43.55" width="9.24" height="2.43" fill="#f0913c"/>
<rect x="10.22" y="45.82" width="6.96" height="2.43" fill="#f0a146"/>
<rect x="17.04" y="45.82" width="11.51" height="2.43" fill="#f0913c"/>
<rect x="28.39" y="45.82" width="29.68" height="2.43" fill="#f06d35"/>
<rect x="57.92" y="45.82" width="29.68" height="2.43" fill="#ea5a38"/>
<rect x="87.45" y="45.82" width="18.32" height="2.43" fill="#e04a40"/>
<rect x="105.62" y="45.82" width="9.24" height="2.43" fill="#ea5a38"/>
<rect x="114.71" y="45.82" width="11.51" height="2.43" fill="#f06d35"/>
<rect x="126.07" y="45.82" width="9.24" height="2.43" fill="#f0913c"/>
<rect x="10.22" y="48.10" width="6.96" height="2.43" fill="#f0a146"/>
<rect x="17.04" y="48.10" width="9.24" height="2.43" fill="#f0913c"/>
<rect x="26.12" y="48.10" width="31.95" height="2.43" fill="#f06d35"/>
<rect x="57.92" y="48.10" width="27.41" height="2.43" fill="#ea5a38"/>
<rect x="85.18" y="48.10" width="22.86" height="2.43" fill="#e04a40"/>
<rect x="107.90" y="48.10" width="9.24" height="2.43" fill="#ea5a38"/>
<rect x="116.98" y="48.10" width="9.24" height="2.43" fill="#f06d35"/>
<rect x="126.07" y="48.10" width="9.24" height="2.43" fill="#f0913c"/>
<rect x="135.15" y="48.10" width="2.42" height="2.43" fill="#f0a146"/>
<rect x="10.22" y="50.37" width="6.96" height="2.43" fill="#f0a146"/>
<rect x="17.04" y="50.37" width="6.96" height="2.43" fill="#f0913c"/>
<rect x="23.85" y="50.37" width="34.22" height="2.43" fill="#f06d35"/>
<rect x="57.92" y="50.37" width="29.68" height="2.43" fill="#ea5a38"/>
<rect x="87.45" y="50.37" width="20.59" height="2.43" fill="#e04a40"/>
<rect x="107.90" y="50.37" width="9.24" height="2.43" fill="#ea5a38"/>
<rect x="116.98" y="50.37" width="11.51" height="2.43" fill="#f06d35"/>
<rect x="128.34" y="50.37" width="6.96" height="2.43" fill="#f0913c"/>
<rect x="135.15" y="50.37" width="4.69" height="2.43" fill="#f0a146"/>
<rect x="10.22" y="52.65" width="6.96" height="2.43" fill="#f0a146"/>
<rect x="17.04" y="52.65" width="6.96" height="2.43" fill="#f0913c"/>
<rect x="23.85" y="52.65" width="36.49" height="2.43" fill="#f06d35"/>
<rect x="60.19" y="52.65" width="27.41" height="2.43" fill="#ea5a38"/>
<rect x="87.45" y="52.65" width="20.59" height="2.43" fill="#e04a40"/>
<rect x="107.90" y="52.65" width="9.24" height="2.43" fill="#ea5a38"/>
<rect x="116.98" y="52.65" width="11.51" height="2.43" fill="#f06d35"/>
<rect x="128.34" y="52.65" width="6.96" height="2.43" fill="#f0913c"/>
<rect x="135.15" y="52.65" width="4.69" height="2.43" fill="#f0a146"/>
<rect x="10.22" y="54.92" width="6.96" height="2.43" fill="#f0a146"/>
<rect x="17.04" y="54.92" width="6.96" height="2.43" fill="#f0913c"/>
<rect x="23.85" y="54.92" width="41.04" height="2.43" fill="#f06d35"/>
<rect x="64.74" y="54.92" width="22.87" height="2.43" fill="#ea5a38"/>
<rect x="87.45" y="54.92" width="18.32" height="2.43" fill="#e04a40"/>
<rect x="105.62" y="54.92" width="13.78" height="2.43" fill="#ea5a38"/>
<rect x="119.25" y="54.92" width="9.24" height="2.43" fill="#f06d35"/>
<rect x="128.34" y="54.92" width="6.96" height="2.43" fill="#f0913c"/>
<rect x="135.15" y="54.92" width="4.69" height="2.43" fill="#f0a146"/>
<rect x="10.22" y="57.20" width="6.96" height="2.43" fill="#f0a146"/>
<rect x="17.04" y="57.20" width="6.96" height="2.43" fill="#f0913c"/>
<rect x="23.85" y="57.20" width="43.31" height="2.43" fill="#f06d35"/>
<rect x="67.01" y="57.20" width="22.86" height="2.43" fill="#ea5a38"/>
<rect x="89.72" y="57.20" width="16.05" height="2.43" fill="#e04a40"/>
<rect x="105.62" y="57.20" width="13.78" height="2.43" fill="#ea5a38"/>
<rect x="119.25" y="57.20" width="9.24" height="2.43" fill="#f06d35"/>
<rect x="128.34" y="57.20" width="6.96" height="2.43" fill="#f0913c"/>
<rect x="135.15" y="57.20" width="4.69" height="2.43" fill="#f0a146"/>
<rect x="10.22" y="59.48" width="6.96" height="2.43" fill="#f0a146"/>
<rect x="17.04" y="59.48" width="6.96" height="2.43" fill="#f0913c"/>
<rect x="23.85" y="59.48" width="47.85" height="2.43" fill="#f06d35"/>
<rect x="71.55" y="59.48" width="20.59" height="2.43" fill="#ea5a38"/>
<rect x="92.00" y="59.48" width="11.51" height="2.43" fill="#e04a40"/>
<rect x="103.35" y="59.48" width="16.05" height="2.43" fill="#ea5a38"/>
<rect x="119.25" y="59.48" width="9.24" height="2.43" fill="#f06d35"/>
<rect x="128.34" y="59.48" width="6.96" height="2.43" fill="#f0913c"/>
<rect x="135.15" y="59.48" width="6.96" height="2.43" fill="#f0a146"/>
<rect x="12.49" y="61.75" width="4.69" height="2.43" fill="#f0a146"/>
<rect x="17.04" y="61.75" width="9.24" height="2.43" fill="#f0913c"/>
<rect x="26.12" y="61.75" width="47.85" height="2.43" fill="#f06d35"/>
<rect x="73.82" y="61.75" width="20.59" height="2.43" fill="#ea5a38"/>
<rect x="94.27" y="61.75" width="6.96" height="2.43" fill="#e04a40"/>
<rect x="101.08" y="61.75" width="18.32" height="2.43" fill="#ea5a38"/>
<rect x="119.25" y="61.75" width="9.24" height="2.43" fill="#f06d35"/>
<rect x="128.34" y="61.75" width="9.24" height="2.43" fill="#f0913c"/>
<rect x="137.43" y="61.75" width="4.69" height="2.43" fill="#f0a146"/>
<rect x="12.49" y="64.02" width="4.69" height="2.43" fill="#f0a146"/>
<rect x="17.04" y="64.02" width="11.51" height="2.43" fill="#f0913c"/>
<rect x="28.39" y="64.02" width="16.05" height="2.43" fill="#f06d35"/>
<rect x="44.29" y="64.02" width="18.32" height="2.43" fill="#f0913c"/>
<rect x="62.47" y="64.02" width="16.05" height="2.43" fill="#f06d35"/>
<rect x="78.37" y="64.02" width="41.04" height="2.43" fill="#ea5a38"/>
<rect x="119.25" y="64.02" width="11.51" height="2.43" fill="#f06d35"/>
<rect x="130.61" y="64.02" width="6.96" height="2.43" fill="#f0913c"/>
<rect x="137.43" y="64.02" width="4.69" height="2.43" fill="#f0a146"/>
<rect x="14.76" y="66.30" width="2.42" height="2.43" fill="#f0a146"/>
<rect x="17.04" y="66.30" width="52.39" height="2.43" fill="#f0913c"/>
<rect x="69.28" y="66.30" width="13.78" height="2.43" fill="#f06d35"/>
<rect x="82.91" y="66.30" width="36.49" height="2.43" fill="#ea5a38"/>
<rect x="119.25" y="66.30" width="11.51" height="2.43" fill="#f06d35"/>
<rect x="130.61" y="66.30" width="6.96" height="2.43" fill="#f0913c"/>
<rect x="137.43" y="66.30" width="2.42" height="2.43" fill="#f0a146"/>
<rect x="14.76" y="68.57" width="2.42" height="2.43" fill="#f0a146"/>
<rect x="17.04" y="68.57" width="56.94" height="2.43" fill="#f0913c"/>
<rect x="73.82" y="68.57" width="13.78" height="2.43" fill="#f06d35"/>
<rect x="87.45" y="68.57" width="31.95" height="2.43" fill="#ea5a38"/>
<rect x="119.25" y="68.57" width="11.51" height="2.43" fill="#f06d35"/>
<rect x="130.61" y="68.57" width="9.24" height="2.43" fill="#f0913c"/>
<rect x="17.04" y="70.85" width="41.04" height="2.43" fill="#f0913c"/>
<rect x="57.92" y="70.85" width="6.96" height="2.43" fill="#f0a146"/>
<rect x="64.74" y="70.85" width="16.05" height="2.43" fill="#f0913c"/>
<rect x="80.64" y="70.85" width="9.24" height="2.43" fill="#f06d35"/>
<rect x="89.72" y="70.85" width="29.68" height="2.43" fill="#ea5a38"/>
<rect x="119.25" y="70.85" width="11.51" height="2.43" fill="#f06d35"/>
<rect x="130.61" y="70.85" width="9.24" height="2.43" fill="#f0913c"/>
<rect x="17.04" y="73.12" width="6.96" height="2.43" fill="#f0a146"/>
<rect x="23.85" y="73.12" width="22.86" height="2.43" fill="#f0913c"/>
<rect x="46.57" y="73.12" width="13.78" height="2.43" fill="#f0a146"/>
<rect x="69.28" y="73.12" width="2.42" height="2.43" fill="#f0a146"/>
<rect x="71.55" y="73.12" width="11.51" height="2.43" fill="#f0913c"/>
<rect x="82.91" y="73.12" width="9.24" height="2.43" fill="#f06d35"/>
<rect x="92.00" y="73.12" width="27.41" height="2.43" fill="#ea5a38"/>
<rect x="119.25" y="73.12" width="9.24" height="2.43" fill="#f06d35"/>
<rect x="128.34" y="73.12" width="9.24" height="2.43" fill="#f0913c"/>
<rect x="137.43" y="73.12" width="2.42" height="2.43" fill="#f0a146"/>
<rect x="17.04" y="75.40" width="34.22" height="2.43" fill="#f0a146"/>
<rect x="76.10" y="75.40" width="9.24" height="2.43" fill="#f0913c"/>
<rect x="85.18" y="75.40" width="9.24" height="2.43" fill="#f06d35"/>
<rect x="94.27" y="75.40" width="25.14" height="2.43" fill="#ea5a38"/>
<rect x="119.25" y="75.40" width="9.24" height="2.43" fill="#f06d35"/>
<rect x="128.34" y="75.40" width="9.24" height="2.43" fill="#f0913c"/>
<rect x="14.76" y="77.67" width="31.95" height="2.43" fill="#f0a146"/>
<rect x="78.37" y="77.67" width="9.24" height="2.43" fill="#f0913c"/>
<rect x="87.45" y="77.67" width="9.24" height="2.43" fill="#f06d35"/>
<rect x="96.54" y="77.67" width="22.86" height="2.43" fill="#ea5a38"/>
<rect x="119.25" y="77.67" width="9.24" height="2.43" fill="#f06d35"/>
<rect x="128.34" y="77.67" width="6.96" height="2.43" fill="#f0913c"/>
<rect x="14.76" y="79.95" width="2.42" height="2.43" fill="#eeb052"/>
<rect x="17.04" y="79.95" width="27.41" height="2.43" fill="#f0a146"/>
<rect x="80.64" y="79.95" width="9.24" height="2.43" fill="#f0913c"/>
<rect x="89.72" y="79.95" width="9.24" height="2.43" fill="#f06d35"/>
<rect x="98.81" y="79.95" width="18.32" height="2.43" fill="#ea5a38"/>
<rect x="116.98" y="79.95" width="9.24" height="2.43" fill="#f06d35"/>
<rect x="126.07" y="79.95" width="9.24" height="2.43" fill="#f0913c"/>
<rect x="17.04" y="82.23" width="13.78" height="2.43" fill="#eeb052"/>
<rect x="80.64" y="82.23" width="2.42" height="2.43" fill="#f0a146"/>
<rect x="82.91" y="82.23" width="11.51" height="2.43" fill="#f0913c"/>
<rect x="94.27" y="82.23" width="31.95" height="2.43" fill="#f06d35"/>
<rect x="126.07" y="82.23" width="6.96" height="2.43" fill="#f0913c"/>
<rect x="85.18" y="84.50" width="9.24" height="2.43" fill="#f0913c"/>
<rect x="94.27" y="84.50" width="31.95" height="2.43" fill="#f06d35"/>
<rect x="126.07" y="84.50" width="6.96" height="2.43" fill="#f0913c"/>
<rect x="85.18" y="86.77" width="2.42" height="2.43" fill="#f0a146"/>
<rect x="87.45" y="86.77" width="2.42" height="2.43" fill="#f0913c"/>
<rect x="94.27" y="86.77" width="2.42" height="2.43" fill="#f0913c"/>
<rect x="96.54" y="86.77" width="13.78" height="2.43" fill="#f06d35"/>
<rect x="110.17" y="86.77" width="2.42" height="2.43" fill="#f0913c"/>
<rect x="112.44" y="86.77" width="13.78" height="2.43" fill="#f06d35"/>
<rect x="126.07" y="86.77" width="4.69" height="2.43" fill="#f0913c"/>
<rect x="94.27" y="89.05" width="36.49" height="2.43" fill="#f0913c"/>
<rect x="96.54" y="91.32" width="34.22" height="2.43" fill="#f0913c"/>
<rect x="98.81" y="93.60" width="22.87" height="2.43" fill="#f0a146"/>
<rect x="107.90" y="95.87" width="2.42" height="2.43" fill="#f0a146"/>
<rect x="114.71" y="95.87" width="4.69" height="2.43" fill="#f0a146"/>
<rect x="110.17" y="100.42" width="13.78" height="2.43" fill="#f0a146"/>
<rect x="110.17" y="102.70" width="13.78" height="2.43" fill="#f0a146"/>
<rect x="112.44" y="104.97" width="11.51" height="2.43" fill="#f0a146"/>
<rect x="112.44" y="107.25" width="11.51" height="2.43" fill="#f0a146"/>
<rect x="114.71" y="109.53" width="6.96" height="2.43" fill="#f0a146"/>
</g>
<use href="#coast" fill="none" stroke="#000" stroke-width="0.6" stroke-linejoin="round"/>
<use href="#bord" fill="none" stroke="#111" stroke-width="0.65"/>
</g>
<rect x="0" y="0" width="148.6" height="113.8" fill="none" stroke="#111" stroke-width="0.75"/>
<text x="2.9" y="10.9" font-size="11">i</text>
<text x="2.2" y="110.4" font-size="9">Δ<tspan dx="1">:</tspan><tspan dx="2">2.54</tspan></text>
<rect x="2.2" y="101.1" width="7.6" height="0.9" fill="#000"/>
<text x="74.3" y="-4.2" font-size="10.85" text-anchor="middle" fill="#3b7cbe">EC-Earth3-Veg</text>
</g>
<g transform="translate(192.6 301.2)">
<g clip-path="url(#cp)">
<g shape-rendering="crispEdges" clip-path="url(#land)">
<rect x="103.03" y="2.60" width="3.40" height="3.40" fill="#eeb052"/>
<rect x="64.09" y="5.85" width="13.13" height="3.40" fill="#eeb052"/>
<rect x="103.03" y="5.85" width="3.40" height="3.40" fill="#eeb052"/>
<rect x="64.09" y="9.10" width="22.87" height="3.40" fill="#eeb052"/>
<rect x="99.78" y="9.10" width="9.88" height="3.40" fill="#eeb052"/>
<rect x="51.11" y="12.35" width="6.64" height="3.40" fill="#ecbd5e"/>
<rect x="60.84" y="12.35" width="26.11" height="3.40" fill="#eeb052"/>
<rect x="99.78" y="12.35" width="9.88" height="3.40" fill="#eeb052"/>
<rect x="47.86" y="15.60" width="6.64" height="3.40" fill="#ecbd5e"/>
<rect x="54.35" y="15.60" width="32.60" height="3.40" fill="#eeb052"/>
<rect x="99.78" y="15.60" width="16.38" height="3.40" fill="#eeb052"/>
<rect x="44.62" y="18.85" width="22.87" height="3.40" fill="#eeb052"/>
<rect x="67.33" y="18.85" width="19.62" height="3.40" fill="#f0a146"/>
<rect x="99.78" y="18.85" width="16.38" height="3.40" fill="#eeb052"/>
<rect x="38.13" y="22.10" width="22.86" height="3.40" fill="#eeb052"/>
<rect x="60.84" y="22.10" width="32.60" height="3.40" fill="#f0a146"/>
<rect x="99.78" y="22.10" width="16.38" height="3.40" fill="#eeb052"/>
<rect x="38.13" y="25.35" width="9.88" height="3.40" fill="#eeb052"/>
<rect x="47.86" y="25.35" width="68.30" height="3.40" fill="#f0a146"/>
<rect x="116.01" y="25.35" width="3.40" height="3.40" fill="#eeb052"/>
<rect x="34.88" y="28.60" width="26.11" height="3.40" fill="#f0a146"/>
<rect x="60.84" y="28.60" width="29.35" height="3.40" fill="#f0913c"/>
<rect x="90.05" y="28.60" width="29.36" height="3.40" fill="#f0a146"/>
<rect x="28.39" y="31.85" width="19.62" height="3.40" fill="#f0a146"/>
<rect x="47.86" y="31.85" width="61.80" height="3.40" fill="#f0913c"/>
<rect x="109.52" y="31.85" width="13.13" height="3.40" fill="#f0a146"/>
<rect x="18.66" y="35.10" width="94.26" height="3.40" fill="#f0913c"/>
<rect x="112.76" y="35.10" width="13.13" height="3.40" fill="#f0a146"/>
<rect x="12.17" y="38.35" width="19.62" height="3.40" fill="#f0913c"/>
<rect x="31.64" y="38.35" width="61.80" height="3.40" fill="#f06d35"/>
<rect x="93.29" y="38.35" width="22.87" height="3.40" fill="#f0913c"/>
<rect x="116.01" y="38.35" width="13.13" height="3.40" fill="#f0a146"/>
<rect x="8.92" y="41.60" width="9.89" height="3.40" fill="#f0913c"/>
<rect x="18.66" y="41.60" width="84.52" height="3.40" fill="#f06d35"/>
<rect x="103.03" y="41.60" width="16.38" height="3.40" fill="#f0913c"/>
<rect x="119.25" y="41.60" width="9.88" height="3.40" fill="#f0a146"/>
<rect x="128.99" y="41.60" width="3.40" height="3.40" fill="#eeb052"/>
<rect x="8.92" y="44.85" width="6.64" height="3.40" fill="#f0913c"/>
<rect x="15.41" y="44.85" width="13.13" height="3.40" fill="#f06d35"/>
<rect x="28.39" y="44.85" width="22.86" height="3.40" fill="#ea5a38"/>
<rect x="51.11" y="44.85" width="55.32" height="3.40" fill="#f06d35"/>
<rect x="106.27" y="44.85" width="19.62" height="3.40" fill="#f0913c"/>
<rect x="125.74" y="44.85" width="6.64" height="3.40" fill="#f0a146"/>
<rect x="132.23" y="44.85" width="3.39" height="3.40" fill="#eeb052"/>
<rect x="8.92" y="48.10" width="3.40" height="3.40" fill="#f0913c"/>
<rect x="12.17" y="48.10" width="9.89" height="3.40" fill="#f06d35"/>
<rect x="21.90" y="48.10" width="32.60" height="3.40" fill="#ea5a38"/>
<rect x="54.35" y="48.10" width="52.07" height="3.40" fill="#f06d35"/>
<rect x="106.27" y="48.10" width="19.62" height="3.40" fill="#f0913c"/>
<rect x="125.74" y="48.10" width="6.64" height="3.40" fill="#f0a146"/>
<rect x="132.23" y="48.10" width="6.64" height="3.40" fill="#eeb052"/>
<rect x="8.92" y="51.35" width="3.40" height="3.40" fill="#f0913c"/>
<rect x="12.17" y="51.35" width="6.64" height="3.40" fill="#f06d35"/>
<rect x="18.66" y="51.35" width="35.85" height="3.40" fill="#ea5a38"/>
<rect x="54.35" y="51.35" width="48.82" height="3.40" fill="#f06d35"/>
<rect x="103.03" y="51.35" width="22.87" height="3.40" fill="#f0913c"/>
<rect x="125.74" y="51.35" width="6.64" height="3.40" fill="#f0a146"/>
<rect x="132.23" y="51.35" width="6.64" height="3.40" fill="#eeb052"/>
<rect x="138.72" y="51.35" width="3.40" height="3.40" fill="#ecbd5e"/>
<rect x="8.92" y="54.60" width="6.64" height="3.40" fill="#f06d35"/>
<rect x="15.41" y="54.60" width="35.84" height="3.40" fill="#ea5a38"/>
<rect x="51.11" y="54.60" width="48.82" height="3.40" fill="#f06d35"/>
<rect x="99.78" y="54.60" width="26.11" height="3.40" fill="#f0913c"/>
<rect x="125.74" y="54.60" width="6.64" height="3.40" fill="#f0a146"/>
<rect x="132.23" y="54.60" width="6.64" height="3.40" fill="#eeb052"/>
<rect x="138.72" y="54.60" width="3.40" height="3.40" fill="#ecbd5e"/>
<rect x="8.92" y="57.85" width="6.64" height="3.40" fill="#f06d35"/>
<rect x="15.41" y="57.85" width="29.35" height="3.40" fill="#ea5a38"/>
<rect x="44.62" y="57.85" width="39.09" height="3.40" fill="#f06d35"/>
<rect x="83.56" y="57.85" width="45.58" height="3.40" fill="#f0913c"/>
<rect x="128.99" y="57.85" width="6.64" height="3.40" fill="#f0a146"/>
<rect x="135.48" y="57.85" width="3.40" height="3.40" fill="#eeb052"/>
<rect x="138.72" y="57.85" width="3.40" height="3.40" fill="#ecbd5e"/>
<rect x="12.17" y="61.10" width="3.39" height="3.40" fill="#f06d35"/>
<rect x="15.41" y="61.10" width="22.87" height="3.40" fill="#ea5a38"/>
<rect x="38.13" y="61.10" width="13.13" height="3.40" fill="#f06d35"/>
<rect x="51.11" y="61.10" width="6.64" height="3.40" fill="#f0913c"/>
<rect x="57.60" y="61.10" width="6.64" height="3.40" fill="#f06d35"/>
<rect x="64.09" y="61.10" width="65.05" height="3.40" fill="#f0913c"/>
<rect x="128.99" y="61.10" width="6.64" height="3.40" fill="#f0a146"/>
<rect x="135.48" y="61.10" width="6.64" height="3.40" fill="#eeb052"/>
<rect x="12.17" y="64.35" width="9.89" height="3.40" fill="#f06d35"/>
<rect x="21.90" y="64.35" width="9.88" height="3.40" fill="#ea5a38"/>
<rect x="31.64" y="64.35" width="6.64" height="3.40" fill="#f06d35"/>
<rect x="38.13" y="64.35" width="91.01" height="3.40" fill="#f0913c"/>
<rect x="128.99" y="64.35" width="6.64" height="3.40" fill="#f0a146"/>
<rect x="135.48" y="64.35" width="6.64" height="3.40" fill="#eeb052"/>
<rect x="15.41" y="67.60" width="19.62" height="3.40" fill="#f06d35"/>
<rect x="34.88" y="67.60" width="6.64" height="3.40" fill="#f0913c"/>
<rect x="41.37" y="67.60" width="6.64" height="3.40" fill="#f0a146"/>
<rect x="47.86" y="67.60" width="3.39" height="3.40" fill="#eeb052"/>
<rect x="51.11" y="67.60" width="39.09" height="3.40" fill="#f0a146"/>
<rect x="90.05" y="67.60" width="42.34" height="3.40" fill="#f0913c"/>
<rect x="132.23" y="67.60" width="6.64" height="3.40" fill="#f0a146"/>
<rect x="138.72" y="67.60" width="3.40" height="3.40" fill="#eeb052"/>
<rect x="15.41" y="70.85" width="6.64" height="3.40" fill="#f0913c"/>
<rect x="21.90" y="70.85" width="9.88" height="3.40" fill="#f06d35"/>
<rect x="31.64" y="70.85" width="3.39" height="3.40" fill="#f0913c"/>
<rect x="34.88" y="70.85" width="6.64" height="3.40" fill="#f0a146"/>
<rect x="41.37" y="70.85" width="3.39" height="3.40" fill="#eeb052"/>
<rect x="44.62" y="70.85" width="6.64" height="3.40" fill="#ecbd5e"/>
<rect x="51.11" y="70.85" width="9.88" height="3.40" fill="#eeb052"/>
<rect x="60.84" y="70.85" width="9.88" height="3.40" fill="#f0a146"/>
<rect x="70.58" y="70.85" width="13.13" height="3.40" fill="#eeb052"/>
<rect x="83.56" y="70.85" width="9.88" height="3.40" fill="#f0a146"/>
<rect x="93.29" y="70.85" width="39.09" height="3.40" fill="#f0913c"/>
<rect x="132.23" y="70.85" width="6.64" height="3.40" fill="#f0a146"/>
<rect x="15.41" y="74.10" width="16.38" height="3.40" fill="#f0913c"/>
<rect x="31.64" y="74.10" width="6.64" height="3.40" fill="#f0a146"/>
<rect x="38.13" y="74.10" width="3.39" height="3.40" fill="#eeb052"/>
<rect x="41.37" y="74.10" width="3.39" height="3.40" fill="#ecbd5e"/>
<rect x="44.62" y="74.10" width="6.64" height="3.40" fill="#f0d478"/>
<rect x="51.11" y="74.10" width="6.64" height="3.40" fill="#ecbd5e"/>
<rect x="73.82" y="74.10" width="13.13" height="3.40" fill="#eeb052"/>
<rect x="86.80" y="74.10" width="9.88" height="3.40" fill="#f0a146"/>
<rect x="96.54" y="74.10" width="19.62" height="3.40" fill="#f0913c"/>
<rect x="116.01" y="74.10" width="9.88" height="3.40" fill="#f06d35"/>
<rect x="125.74" y="74.10" width="6.64" height="3.40" fill="#f0913c"/>
<rect x="132.23" y="74.10" width="6.64" height="3.40" fill="#f0a146"/>
<rect x="15.41" y="77.35" width="16.38" height="3.40" fill="#f0a146"/>
<rect x="31.64" y="77.35" width="6.64" height="3.40" fill="#eeb052"/>
<rect x="38.13" y="77.35" width="3.39" height="3.40" fill="#ecbd5e"/>
<rect x="41.37" y="77.35" width="6.64" height="3.40" fill="#f0d478"/>
<rect x="77.07" y="77.35" width="9.88" height="3.40" fill="#eeb052"/>
<rect x="86.80" y="77.35" width="9.88" height="3.40" fill="#f0a146"/>
<rect x="96.54" y="77.35" width="19.62" height="3.40" fill="#f0913c"/>
<rect x="116.01" y="77.35" width="9.88" height="3.40" fill="#f06d35"/>
<rect x="125.74" y="77.35" width="9.88" height="3.40" fill="#f0913c"/>
<rect x="15.41" y="80.60" width="16.38" height="3.40" fill="#eeb052"/>
<rect x="80.31" y="80.60" width="9.88" height="3.40" fill="#eeb052"/>
<rect x="90.05" y="80.60" width="13.13" height="3.40" fill="#f0a146"/>
<rect x="103.03" y="80.60" width="13.13" height="3.40" fill="#f0913c"/>
<rect x="116.01" y="80.60" width="13.13" height="3.40" fill="#f06d35"/>
<rect x="128.99" y="80.60" width="6.64" height="3.40" fill="#f0913c"/>
<rect x="21.90" y="83.85" width="3.39" height="3.40" fill="#eeb052"/>
<rect x="83.56" y="83.85" width="6.64" height="3.40" fill="#eeb052"/>
<rect x="90.05" y="83.85" width="22.87" height="3.40" fill="#f0a146"/>
<rect x="112.76" y="83.85" width="6.64" height="3.40" fill="#f0913c"/>
<rect x="119.25" y="83.85" width="6.64" height="3.40" fill="#f06d35"/>
<rect x="125.74" y="83.85" width="6.64" height="3.40" fill="#f0913c"/>
<rect x="86.80" y="87.10" width="3.39" height="3.40" fill="#eeb052"/>
<rect x="93.29" y="87.10" width="22.87" height="3.40" fill="#f0a146"/>
<rect x="116.01" y="87.10" width="16.38" height="3.40" fill="#f0913c"/>
<rect x="93.29" y="90.35" width="19.62" height="3.40" fill="#eeb052"/>
<rect x="112.76" y="90.35" width="16.38" height="3.40" fill="#f0a146"/>
<rect x="99.78" y="93.60" width="22.87" height="3.40" fill="#eeb052"/>
<rect x="109.52" y="100.10" width="13.13" height="3.40" fill="#eeb052"/>
<rect x="122.50" y="100.10" width="3.40" height="3.40" fill="#f0a146"/>
<rect x="109.52" y="103.35" width="9.89" height="3.40" fill="#eeb052"/>
<rect x="119.25" y="103.35" width="6.64" height="3.40" fill="#f0a146"/>
<rect x="112.76" y="106.60" width="3.40" height="3.40" fill="#eeb052"/>
<rect x="116.01" y="106.60" width="9.88" height="3.40" fill="#f0a146"/>
<rect x="116.01" y="109.85" width="3.40" height="3.40" fill="#eeb052"/>
</g>
<use href="#coast" fill="none" stroke="#000" stroke-width="0.6" stroke-linejoin="round"/>
<use href="#bord" fill="none" stroke="#111" stroke-width="0.65"/>
</g>
<rect x="0" y="0" width="148.6" height="113.8" fill="none" stroke="#111" stroke-width="0.75"/>
<text x="2.9" y="10.9" font-size="11">j</text>
<text x="2.2" y="110.4" font-size="9">Δ<tspan dx="1">:</tspan><tspan dx="2">2.42</tspan></text>
<rect x="2.2" y="101.1" width="7.6" height="0.9" fill="#000"/>
<text x="74.3" y="-4.2" font-size="10.85" text-anchor="middle" fill="#3b7cbe">MPI-ESM1-2-HR</text>
</g>
<g transform="translate(359.3 301.2)">
<g clip-path="url(#cp)">
<g shape-rendering="crispEdges" clip-path="url(#land)">
<rect x="103.03" y="2.60" width="3.40" height="3.40" fill="#ecbd5e"/>
<rect x="64.09" y="5.85" width="13.13" height="3.40" fill="#eeb052"/>
<rect x="103.03" y="5.85" width="3.40" height="3.40" fill="#ecbd5e"/>
<rect x="64.09" y="9.10" width="22.87" height="3.40" fill="#eeb052"/>
<rect x="99.78" y="9.10" width="3.40" height="3.40" fill="#eeb052"/>
<rect x="103.03" y="9.10" width="6.64" height="3.40" fill="#ecbd5e"/>
<rect x="51.11" y="12.35" width="6.64" height="3.40" fill="#eeb052"/>
<rect x="60.84" y="12.35" width="26.11" height="3.40" fill="#eeb052"/>
<rect x="99.78" y="12.35" width="3.40" height="3.40" fill="#eeb052"/>
<rect x="103.03" y="12.35" width="6.64" height="3.40" fill="#ecbd5e"/>
<rect x="47.86" y="15.60" width="3.39" height="3.40" fill="#f0a146"/>
<rect x="51.11" y="15.60" width="6.64" height="3.40" fill="#eeb052"/>
<rect x="57.60" y="15.60" width="16.38" height="3.40" fill="#f0a146"/>
<rect x="73.82" y="15.60" width="13.13" height="3.40" fill="#eeb052"/>
<rect x="99.78" y="15.60" width="6.64" height="3.40" fill="#eeb052"/>
<rect x="106.27" y="15.60" width="9.88" height="3.40" fill="#ecbd5e"/>
<rect x="44.62" y="18.85" width="35.84" height="3.40" fill="#f0a146"/>
<rect x="80.31" y="18.85" width="6.64" height="3.40" fill="#eeb052"/>
<rect x="99.78" y="18.85" width="9.88" height="3.40" fill="#eeb052"/>
<rect x="109.52" y="18.85" width="6.64" height="3.40" fill="#ecbd5e"/>
<rect x="38.13" y="22.10" width="45.58" height="3.40" fill="#f0a146"/>
<rect x="83.56" y="22.10" width="9.88" height="3.40" fill="#eeb052"/>
<rect x="99.78" y="22.10" width="13.13" height="3.40" fill="#eeb052"/>
<rect x="112.76" y="22.10" width="3.40" height="3.40" fill="#ecbd5e"/>
<rect x="38.13" y="25.35" width="6.64" height="3.40" fill="#f0a146"/>
<rect x="44.62" y="25.35" width="29.36" height="3.40" fill="#f0913c"/>
<rect x="73.82" y="25.35" width="19.62" height="3.40" fill="#f0a146"/>
<rect x="93.29" y="25.35" width="22.87" height="3.40" fill="#eeb052"/>
<rect x="116.01" y="25.35" width="3.40" height="3.40" fill="#ecbd5e"/>
<rect x="34.88" y="28.60" width="39.09" height="3.40" fill="#f0913c"/>
<rect x="73.82" y="28.60" width="26.11" height="3.40" fill="#f0a146"/>
<rect x="99.78" y="28.60" width="19.62" height="3.40" fill="#eeb052"/>
<rect x="28.39" y="31.85" width="45.58" height="3.40" fill="#f0913c"/>
<rect x="73.82" y="31.85" width="29.35" height="3.40" fill="#f0a146"/>
<rect x="103.03" y="31.85" width="16.38" height="3.40" fill="#eeb052"/>
<rect x="119.25" y="31.85" width="3.39" height="3.40" fill="#ecbd5e"/>
<rect x="18.66" y="35.10" width="3.40" height="3.40" fill="#f0a146"/>
<rect x="21.90" y="35.10" width="19.62" height="3.40" fill="#f0913c"/>
<rect x="41.37" y="35.10" width="13.13" height="3.40" fill="#f06d35"/>
<rect x="54.35" y="35.10" width="19.62" height="3.40" fill="#f0913c"/>
<rect x="73.82" y="35.10" width="29.35" height="3.40" fill="#f0a146"/>
<rect x="103.03" y="35.10" width="16.38" height="3.40" fill="#eeb052"/>
<rect x="119.25" y="35.10" width="6.64" height="3.40" fill="#ecbd5e"/>
<rect x="12.17" y="38.35" width="6.64" height="3.40" fill="#f0a146"/>
<rect x="18.66" y="38.35" width="19.62" height="3.40" fill="#f0913c"/>
<rect x="38.13" y="38.35" width="19.62" height="3.40" fill="#f06d35"/>
<rect x="57.60" y="38.35" width="16.38" height="3.40" fill="#f0913c"/>
<rect x="73.82" y="38.35" width="29.35" height="3.40" fill="#f0a146"/>
<rect x="103.03" y="38.35" width="16.38" height="3.40" fill="#eeb052"/>
<rect x="119.25" y="38.35" width="9.88" height="3.40" fill="#ecbd5e"/>
<rect x="8.92" y="41.60" width="3.40" height="3.40" fill="#eeb052"/>
<rect x="12.17" y="41.60" width="6.64" height="3.40" fill="#f0a146"/>
<rect x="18.66" y="41.60" width="19.62" height="3.40" fill="#f0913c"/>
<rect x="38.13" y="41.60" width="16.38" height="3.40" fill="#f06d35"/>
<rect x="54.35" y="41.60" width="13.13" height="3.40" fill="#f0913c"/>
<rect x="67.33" y="41.60" width="29.35" height="3.40" fill="#f0a146"/>
<rect x="96.54" y="41.60" width="22.87" height="3.40" fill="#eeb052"/>
<rect x="119.25" y="41.60" width="13.13" height="3.40" fill="#ecbd5e"/>
<rect x="8.92" y="44.85" width="3.40" height="3.40" fill="#eeb052"/>
<rect x="12.17" y="44.85" width="6.64" height="3.40" fill="#f0a146"/>
<rect x="18.66" y="44.85" width="22.86" height="3.40" fill="#f0913c"/>
<rect x="41.37" y="44.85" width="9.88" height="3.40" fill="#f06d35"/>
<rect x="51.11" y="44.85" width="13.13" height="3.40" fill="#f0913c"/>
<rect x="64.09" y="44.85" width="26.11" height="3.40" fill="#f0a146"/>
<rect x="90.05" y="44.85" width="29.36" height="3.40" fill="#eeb052"/>
<rect x="119.25" y="44.85" width="13.13" height="3.40" fill="#ecbd5e"/>
<rect x="132.23" y="44.85" width="3.39" height="3.40" fill="#f0d478"/>
<rect x="8.92" y="48.10" width="3.40" height="3.40" fill="#eeb052"/>
<rect x="12.17" y="48.10" width="6.64" height="3.40" fill="#f0a146"/>
<rect x="18.66" y="48.10" width="39.09" height="3.40" fill="#f0913c"/>
<rect x="57.60" y="48.10" width="19.62" height="3.40" fill="#f0a146"/>
<rect x="77.07" y="48.10" width="39.09" height="3.40" fill="#eeb052"/>
<rect x="116.01" y="48.10" width="16.38" height="3.40" fill="#ecbd5e"/>
<rect x="132.23" y="48.10" width="6.64" height="3.40" fill="#f0d478"/>
<rect x="8.92" y="51.35" width="3.40" height="3.40" fill="#eeb052"/>
<rect x="12.17" y="51.35" width="6.64" height="3.40" fill="#f0a146"/>
<rect x="18.66" y="51.35" width="35.85" height="3.40" fill="#f0913c"/>
<rect x="54.35" y="51.35" width="16.37" height="3.40" fill="#f0a146"/>
<rect x="70.58" y="51.35" width="39.09" height="3.40" fill="#eeb052"/>
<rect x="109.52" y="51.35" width="22.87" height="3.40" fill="#ecbd5e"/>
<rect x="132.23" y="51.35" width="9.88" height="3.40" fill="#f0d478"/>
<rect x="8.92" y="54.60" width="13.13" height="3.40" fill="#f0a146"/>
<rect x="21.90" y="54.60" width="16.38" height="3.40" fill="#f0913c"/>
<rect x="38.13" y="54.60" width="22.86" height="3.40" fill="#f0a146"/>
<rect x="60.84" y="54.60" width="26.11" height="3.40" fill="#eeb052"/>
<rect x="86.80" y="54.60" width="42.34" height="3.40" fill="#ecbd5e"/>
<rect x="128.99" y="54.60" width="9.88" height="3.40" fill="#f0d478"/>
<rect x="138.72" y="54.60" width="3.40" height="3.40" fill="#f3e592"/>
<rect x="8.92" y="57.85" width="3.40" height="3.40" fill="#eeb052"/>
<rect x="12.17" y="57.85" width="42.34" height="3.40" fill="#f0a146"/>
<rect x="54.35" y="57.85" width="13.13" height="3.40" fill="#eeb052"/>
<rect x="67.33" y="57.85" width="61.80" height="3.40" fill="#ecbd5e"/>
<rect x="128.99" y="57.85" width="9.88" height="3.40" fill="#f0d478"/>
<rect x="138.72" y="57.85" width="3.40" height="3.40" fill="#f3e592"/>
<rect x="12.17" y="61.10" width="3.39" height="3.40" fill="#eeb052"/>
<rect x="15.41" y="61.10" width="22.87" height="3.40" fill="#f0a146"/>
<rect x="38.13" y="61.10" width="19.62" height="3.40" fill="#eeb052"/>
<rect x="57.60" y="61.10" width="71.54" height="3.40" fill="#ecbd5e"/>
<rect x="128.99" y="61.10" width="6.64" height="3.40" fill="#f0d478"/>
<rect x="135.48" y="61.10" width="6.64" height="3.40" fill="#f3e592"/>
<rect x="12.17" y="64.35" width="29.35" height="3.40" fill="#eeb052"/>
<rect x="41.37" y="64.35" width="19.62" height="3.40" fill="#ecbd5e"/>
<rect x="60.84" y="64.35" width="32.60" height="3.40" fill="#f0d478"/>
<rect x="93.29" y="64.35" width="32.60" height="3.40" fill="#ecbd5e"/>
<rect x="125.74" y="64.35" width="9.88" height="3.40" fill="#f0d478"/>
<rect x="135.48" y="64.35" width="6.64" height="3.40" fill="#f3e592"/>
<rect x="15.41" y="67.60" width="16.38" height="3.40" fill="#eeb052"/>
<rect x="31.64" y="67.60" width="9.88" height="3.40" fill="#ecbd5e"/>
<rect x="41.37" y="67.60" width="19.62" height="3.40" fill="#f0d478"/>
<rect x="60.84" y="67.60" width="13.13" height="3.40" fill="#f3e592"/>
<rect x="73.82" y="67.60" width="61.80" height="3.40" fill="#f0d478"/>
<rect x="135.48" y="67.60" width="6.64" height="3.40" fill="#f3e592"/>
<rect x="15.41" y="70.85" width="19.62" height="3.40" fill="#ecbd5e"/>
<rect x="34.88" y="70.85" width="9.88" height="3.40" fill="#f0d478"/>
<rect x="44.62" y="70.85" width="42.34" height="3.40" fill="#f3e592"/>
<rect x="86.80" y="70.85" width="48.82" height="3.40" fill="#f0d478"/>
<rect x="135.48" y="70.85" width="3.40" height="3.40" fill="#f3e592"/>
<rect x="15.41" y="74.10" width="9.88" height="3.40" fill="#ecbd5e"/>
<rect x="25.15" y="74.10" width="13.13" height="3.40" fill="#f0d478"/>
<rect x="38.13" y="74.10" width="6.64" height="3.40" fill="#f3e592"/>
<rect x="44.62" y="74.10" width="13.13" height="3.40" fill="#f1f7a2"/>
<rect x="73.82" y="74.10" width="3.40" height="3.40" fill="#f1f7a2"/>
<rect x="77.07" y="74.10" width="19.62" height="3.40" fill="#f3e592"/>
<rect x="96.54" y="74.10" width="32.60" height="3.40" fill="#f0d478"/>
<rect x="128.99" y="74.10" width="9.88" height="3.40" fill="#f3e592"/>
<rect x="15.41" y="77.35" width="16.38" height="3.40" fill="#f0d478"/>
<rect x="31.64" y="77.35" width="9.88" height="3.40" fill="#f3e592"/>
<rect x="41.37" y="77.35" width="6.64" height="3.40" fill="#f1f7a2"/>
<rect x="77.07" y="77.35" width="9.88" height="3.40" fill="#f1f7a2"/>
<rect x="86.80" y="77.35" width="26.11" height="3.40" fill="#f3e592"/>
<rect x="112.76" y="77.35" width="13.13" height="3.40" fill="#f0d478"/>
<rect x="125.74" y="77.35" width="9.88" height="3.40" fill="#f3e592"/>
<rect x="15.41" y="80.60" width="16.38" height="3.40" fill="#f3e592"/>
<rect x="80.31" y="80.60" width="16.38" height="3.40" fill="#f1f7a2"/>
<rect x="96.54" y="80.60" width="22.87" height="3.40" fill="#f3e592"/>
<rect x="119.25" y="80.60" width="6.64" height="3.40" fill="#f0d478"/>
<rect x="125.74" y="80.60" width="9.88" height="3.40" fill="#f3e592"/>
<rect x="21.90" y="83.85" width="3.39" height="3.40" fill="#f1f7a2"/>
<rect x="83.56" y="83.85" width="3.40" height="3.40" fill="#f5fcb6"/>
<rect x="86.80" y="83.85" width="16.37" height="3.40" fill="#f1f7a2"/>
<rect x="103.03" y="83.85" width="29.36" height="3.40" fill="#f3e592"/>
<rect x="86.80" y="87.10" width="3.39" height="3.40" fill="#f5fcb6"/>
<rect x="93.29" y="87.10" width="22.87" height="3.40" fill="#f1f7a2"/>
<rect x="116.01" y="87.10" width="16.38" height="3.40" fill="#f3e592"/>
<rect x="93.29" y="90.35" width="6.64" height="3.40" fill="#f5fcb6"/>
<rect x="99.78" y="90.35" width="29.36" height="3.40" fill="#f1f7a2"/>
<rect x="99.78" y="93.60" width="9.88" height="3.40" fill="#f5fcb6"/>
<rect x="109.52" y="93.60" width="13.13" height="3.40" fill="#f1f7a2"/>
<rect x="109.52" y="100.10" width="6.64" height="3.40" fill="#f5fcb6"/>
<rect x="116.01" y="100.10" width="9.88" height="3.40" fill="#f1f7a2"/>
<rect x="109.52" y="103.35" width="6.64" height="3.40" fill="#f5fcb6"/>
<rect x="116.01" y="103.35" width="9.88" height="3.40" fill="#f1f7a2"/>
<rect x="112.76" y="106.60" width="6.64" height="3.40" fill="#f5fcb6"/>
<rect x="119.25" y="106.60" width="6.64" height="3.40" fill="#f1f7a2"/>
<rect x="116.01" y="109.85" width="3.40" height="3.40" fill="#f5fcb6"/>
</g>
<use href="#coast" fill="none" stroke="#000" stroke-width="0.6" stroke-linejoin="round"/>
<use href="#bord" fill="none" stroke="#111" stroke-width="0.65"/>
</g>
<rect x="0" y="0" width="148.6" height="113.8" fill="none" stroke="#111" stroke-width="0.75"/>
<text x="2.9" y="10.9" font-size="11">k</text>
<text x="2.2" y="110.4" font-size="9">Δ<tspan dx="1">:</tspan><tspan dx="2">2.00</tspan></text>
<rect x="2.2" y="101.1" width="7.6" height="0.9" fill="#000"/>
<text x="74.3" y="-4.2" font-size="10.85" text-anchor="middle" fill="#3b7cbe">NorESM2-MM</text>
</g>
<g transform="translate(525.9 301.2)">
<g clip-path="url(#cp)">
<g shape-rendering="crispEdges" clip-path="url(#land)">
<rect x="103.03" y="2.60" width="3.40" height="3.40" fill="#e04a40"/>
<rect x="64.09" y="5.85" width="9.88" height="3.40" fill="#c02a80"/>
<rect x="73.82" y="5.85" width="3.40" height="3.40" fill="#b02858"/>
<rect x="103.03" y="5.85" width="3.40" height="3.40" fill="#d4314a"/>
<rect x="64.09" y="9.10" width="3.40" height="3.40" fill="#b02a88"/>
<rect x="67.33" y="9.10" width="19.62" height="3.40" fill="#c02a80"/>
<rect x="99.78" y="9.10" width="3.40" height="3.40" fill="#c02a80"/>
<rect x="103.03" y="9.10" width="3.40" height="3.40" fill="#c42a52"/>
<rect x="106.27" y="9.10" width="3.39" height="3.40" fill="#e04a40"/>
<rect x="51.11" y="12.35" width="6.64" height="3.40" fill="#b02a88"/>
<rect x="60.84" y="12.35" width="26.11" height="3.40" fill="#b02a88"/>
<rect x="99.78" y="12.35" width="3.40" height="3.40" fill="#90267a"/>
<rect x="103.03" y="12.35" width="3.40" height="3.40" fill="#c02a80"/>
<rect x="106.27" y="12.35" width="3.39" height="3.40" fill="#d4314a"/>
<rect x="47.86" y="15.60" width="13.13" height="3.40" fill="#b02a88"/>
<rect x="60.84" y="15.60" width="13.13" height="3.40" fill="#90267a"/>
<rect x="73.82" y="15.60" width="13.13" height="3.40" fill="#b02a88"/>
<rect x="99.78" y="15.60" width="3.40" height="3.40" fill="#90267a"/>
<rect x="103.03" y="15.60" width="3.40" height="3.40" fill="#b02a88"/>
<rect x="106.27" y="15.60" width="3.39" height="3.40" fill="#b02858"/>
<rect x="109.52" y="15.60" width="3.40" height="3.40" fill="#d4314a"/>
<rect x="112.76" y="15.60" width="3.40" height="3.40" fill="#ea5a38"/>
<rect x="44.62" y="18.85" width="13.13" height="3.40" fill="#b02a88"/>
<rect x="57.60" y="18.85" width="29.36" height="3.40" fill="#90267a"/>
<rect x="99.78" y="18.85" width="6.64" height="3.40" fill="#90267a"/>
<rect x="106.27" y="18.85" width="3.39" height="3.40" fill="#c02a80"/>
<rect x="109.52" y="18.85" width="3.40" height="3.40" fill="#c42a52"/>
<rect x="112.76" y="18.85" width="3.40" height="3.40" fill="#d4314a"/>
<rect x="38.13" y="22.10" width="55.31" height="3.40" fill="#90267a"/>
<rect x="99.78" y="22.10" width="9.88" height="3.40" fill="#90267a"/>
<rect x="109.52" y="22.10" width="3.40" height="3.40" fill="#c02a80"/>
<rect x="112.76" y="22.10" width="3.40" height="3.40" fill="#c42a52"/>
<rect x="38.13" y="25.35" width="71.54" height="3.40" fill="#90267a"/>
<rect x="109.52" y="25.35" width="3.40" height="3.40" fill="#b02a88"/>
<rect x="112.76" y="25.35" width="3.40" height="3.40" fill="#b02858"/>
<rect x="116.01" y="25.35" width="3.40" height="3.40" fill="#d4314a"/>
<rect x="34.88" y="28.60" width="78.03" height="3.40" fill="#90267a"/>
<rect x="112.76" y="28.60" width="3.40" height="3.40" fill="#c02a80"/>
<rect x="116.01" y="28.60" width="3.40" height="3.40" fill="#c42a52"/>
<rect x="28.39" y="31.85" width="84.52" height="3.40" fill="#90267a"/>
<rect x="112.76" y="31.85" width="3.40" height="3.40" fill="#b02a88"/>
<rect x="116.01" y="31.85" width="3.40" height="3.40" fill="#b02858"/>
<rect x="119.25" y="31.85" width="3.39" height="3.40" fill="#d4314a"/>
<rect x="18.66" y="35.10" width="3.40" height="3.40" fill="#b02a88"/>
<rect x="21.90" y="35.10" width="91.01" height="3.40" fill="#90267a"/>
<rect x="112.76" y="35.10" width="3.40" height="3.40" fill="#b02a88"/>
<rect x="116.01" y="35.10" width="3.40" height="3.40" fill="#c02a80"/>
<rect x="119.25" y="35.10" width="3.39" height="3.40" fill="#c42a52"/>
<rect x="122.50" y="35.10" width="3.40" height="3.40" fill="#d4314a"/>
<rect x="12.17" y="38.35" width="3.39" height="3.40" fill="#b02858"/>
<rect x="15.41" y="38.35" width="3.40" height="3.40" fill="#c02a80"/>
<rect x="18.66" y="38.35" width="3.40" height="3.40" fill="#b02a88"/>
<rect x="21.90" y="38.35" width="94.26" height="3.40" fill="#90267a"/>
<rect x="116.01" y="38.35" width="3.40" height="3.40" fill="#c02a80"/>
<rect x="119.25" y="38.35" width="3.39" height="3.40" fill="#b02858"/>
<rect x="122.50" y="38.35" width="6.64" height="3.40" fill="#c42a52"/>
<rect x="8.92" y="41.60" width="3.40" height="3.40" fill="#d4314a"/>
<rect x="12.17" y="41.60" width="3.39" height="3.40" fill="#b02858"/>
<rect x="15.41" y="41.60" width="3.40" height="3.40" fill="#c02a80"/>
<rect x="18.66" y="41.60" width="3.40" height="3.40" fill="#b02a88"/>
<rect x="21.90" y="41.60" width="94.26" height="3.40" fill="#90267a"/>
<rect x="116.01" y="41.60" width="3.40" height="3.40" fill="#b02a88"/>
<rect x="119.25" y="41.60" width="3.39" height="3.40" fill="#c02a80"/>
<rect x="122.50" y="41.60" width="6.64" height="3.40" fill="#b02858"/>
<rect x="128.99" y="41.60" width="3.40" height="3.40" fill="#c42a52"/>
<rect x="8.92" y="44.85" width="3.40" height="3.40" fill="#e04a40"/>
<rect x="12.17" y="44.85" width="3.39" height="3.40" fill="#c42a52"/>
<rect x="15.41" y="44.85" width="3.40" height="3.40" fill="#b02858"/>
<rect x="18.66" y="44.85" width="6.64" height="3.40" fill="#b02a88"/>
<rect x="25.15" y="44.85" width="91.01" height="3.40" fill="#90267a"/>
<rect x="116.01" y="44.85" width="6.64" height="3.40" fill="#b02a88"/>
<rect x="122.50" y="44.85" width="3.40" height="3.40" fill="#c02a80"/>
<rect x="125.74" y="44.85" width="6.64" height="3.40" fill="#b02858"/>
<rect x="132.23" y="44.85" width="3.39" height="3.40" fill="#c42a52"/>
<rect x="8.92" y="48.10" width="3.40" height="3.40" fill="#e04a40"/>
<rect x="12.17" y="48.10" width="3.39" height="3.40" fill="#c42a52"/>
<rect x="15.41" y="48.10" width="3.40" height="3.40" fill="#b02858"/>
<rect x="18.66" y="48.10" width="3.40" height="3.40" fill="#c02a80"/>
<rect x="21.90" y="48.10" width="3.39" height="3.40" fill="#b02a88"/>
<rect x="25.15" y="48.10" width="91.01" height="3.40" fill="#90267a"/>
<rect x="116.01" y="48.10" width="9.88" height="3.40" fill="#b02a88"/>
<rect x="125.74" y="48.10" width="3.40" height="3.40" fill="#c02a80"/>
<rect x="128.99" y="48.10" width="3.40" height="3.40" fill="#b02858"/>
<rect x="132.23" y="48.10" width="3.39" height="3.40" fill="#c42a52"/>
<rect x="135.48" y="48.10" width="3.40" height="3.40" fill="#d4314a"/>
<rect x="8.92" y="51.35" width="3.40" height="3.40" fill="#e04a40"/>
<rect x="12.17" y="51.35" width="3.39" height="3.40" fill="#c42a52"/>
<rect x="15.41" y="51.35" width="3.40" height="3.40" fill="#b02858"/>
<rect x="18.66" y="51.35" width="3.40" height="3.40" fill="#c02a80"/>
<rect x="21.90" y="51.35" width="6.64" height="3.40" fill="#b02a88"/>
<rect x="28.39" y="51.35" width="68.30" height="3.40" fill="#90267a"/>
<rect x="96.54" y="51.35" width="6.64" height="3.40" fill="#b02a88"/>
<rect x="103.03" y="51.35" width="6.64" height="3.40" fill="#90267a"/>
<rect x="109.52" y="51.35" width="16.38" height="3.40" fill="#b02a88"/>
<rect x="125.74" y="51.35" width="6.64" height="3.40" fill="#c02a80"/>
<rect x="132.23" y="51.35" width="3.39" height="3.40" fill="#b02858"/>
<rect x="135.48" y="51.35" width="3.40" height="3.40" fill="#c42a52"/>
<rect x="138.72" y="51.35" width="3.40" height="3.40" fill="#d4314a"/>
<rect x="8.92" y="54.60" width="3.40" height="3.40" fill="#e04a40"/>
<rect x="12.17" y="54.60" width="3.39" height="3.40" fill="#c42a52"/>
<rect x="15.41" y="54.60" width="3.40" height="3.40" fill="#b02858"/>
<rect x="18.66" y="54.60" width="6.64" height="3.40" fill="#c02a80"/>
<rect x="25.15" y="54.60" width="103.99" height="3.40" fill="#b02a88"/>
<rect x="128.99" y="54.60" width="3.40" height="3.40" fill="#c02a80"/>
<rect x="132.23" y="54.60" width="3.39" height="3.40" fill="#b02858"/>
<rect x="135.48" y="54.60" width="3.40" height="3.40" fill="#c42a52"/>
<rect x="138.72" y="54.60" width="3.40" height="3.40" fill="#d4314a"/>
<rect x="8.92" y="57.85" width="3.40" height="3.40" fill="#e04a40"/>
<rect x="12.17" y="57.85" width="3.39" height="3.40" fill="#c42a52"/>
<rect x="15.41" y="57.85" width="9.88" height="3.40" fill="#b02858"/>
<rect x="25.15" y="57.85" width="81.28" height="3.40" fill="#c02a80"/>
<rect x="106.27" y="57.85" width="22.87" height="3.40" fill="#b02a88"/>
<rect x="128.99" y="57.85" width="3.40" height="3.40" fill="#c02a80"/>
<rect x="132.23" y="57.85" width="3.39" height="3.40" fill="#b02858"/>
<rect x="135.48" y="57.85" width="3.40" height="3.40" fill="#c42a52"/>
<rect x="138.72" y="57.85" width="3.40" height="3.40" fill="#d4314a"/>
<rect x="12.17" y="61.10" width="3.39" height="3.40" fill="#d4314a"/>
<rect x="15.41" y="61.10" width="13.13" height="3.40" fill="#c42a52"/>
<rect x="28.39" y="61.10" width="42.34" height="3.40" fill="#b02858"/>
<rect x="70.58" y="61.10" width="3.40" height="3.40" fill="#c42a52"/>
<rect x="73.82" y="61.10" width="22.87" height="3.40" fill="#b02858"/>
<rect x="96.54" y="61.10" width="19.62" height="3.40" fill="#c02a80"/>
<rect x="116.01" y="61.10" width="13.13" height="3.40" fill="#b02a88"/>
<rect x="128.99" y="61.10" width="3.40" height="3.40" fill="#c02a80"/>
<rect x="132.23" y="61.10" width="3.39" height="3.40" fill="#b02858"/>
<rect x="135.48" y="61.10" width="3.40" height="3.40" fill="#c42a52"/>
<rect x="138.72" y="61.10" width="3.40" height="3.40" fill="#d4314a"/>
<rect x="12.17" y="64.35" width="3.39" height="3.40" fill="#e04a40"/>
<rect x="15.41" y="64.35" width="42.34" height="3.40" fill="#d4314a"/>
<rect x="57.60" y="64.35" width="35.84" height="3.40" fill="#c42a52"/>
<rect x="93.29" y="64.35" width="9.88" height="3.40" fill="#b02858"/>
<rect x="103.03" y="64.35" width="13.13" height="3.40" fill="#c02a80"/>
<rect x="116.01" y="64.35" width="13.13" height="3.40" fill="#b02a88"/>
<rect x="128.99" y="64.35" width="3.40" height="3.40" fill="#c02a80"/>
<rect x="132.23" y="64.35" width="3.39" height="3.40" fill="#b02858"/>
<rect x="135.48" y="64.35" width="3.40" height="3.40" fill="#c42a52"/>
<rect x="138.72" y="64.35" width="3.40" height="3.40" fill="#d4314a"/>
<rect x="15.41" y="67.60" width="42.34" height="3.40" fill="#e04a40"/>
<rect x="57.60" y="67.60" width="29.36" height="3.40" fill="#d4314a"/>
<rect x="86.80" y="67.60" width="9.88" height="3.40" fill="#c42a52"/>
<rect x="96.54" y="67.60" width="6.64" height="3.40" fill="#b02858"/>
<rect x="103.03" y="67.60" width="13.13" height="3.40" fill="#c02a80"/>
<rect x="116.01" y="67.60" width="13.13" height="3.40" fill="#b02a88"/>
<rect x="128.99" y="67.60" width="3.40" height="3.40" fill="#c02a80"/>
<rect x="132.23" y="67.60" width="3.39" height="3.40" fill="#b02858"/>
<rect x="135.48" y="67.60" width="3.40" height="3.40" fill="#c42a52"/>
<rect x="138.72" y="67.60" width="3.40" height="3.40" fill="#d4314a"/>
<rect x="15.41" y="70.85" width="3.40" height="3.40" fill="#f06d35"/>
<rect x="18.66" y="70.85" width="35.85" height="3.40" fill="#ea5a38"/>
<rect x="54.35" y="70.85" width="26.11" height="3.40" fill="#e04a40"/>
<rect x="80.31" y="70.85" width="9.88" height="3.40" fill="#d4314a"/>
<rect x="90.05" y="70.85" width="6.64" height="3.40" fill="#c42a52"/>
<rect x="96.54" y="70.85" width="6.64" height="3.40" fill="#b02858"/>
<rect x="103.03" y="70.85" width="13.13" height="3.40" fill="#c02a80"/>
<rect x="116.01" y="70.85" width="9.88" height="3.40" fill="#b02a88"/>
<rect x="125.74" y="70.85" width="6.64" height="3.40" fill="#c02a80"/>
<rect x="132.23" y="70.85" width="3.39" height="3.40" fill="#b02858"/>
<rect x="135.48" y="70.85" width="3.40" height="3.40" fill="#c42a52"/>
<rect x="15.41" y="74.10" width="3.40" height="3.40" fill="#f0913c"/>
<rect x="18.66" y="74.10" width="35.85" height="3.40" fill="#f06d35"/>
<rect x="54.35" y="74.10" width="3.39" height="3.40" fill="#ea5a38"/>
<rect x="73.82" y="74.10" width="9.88" height="3.40" fill="#e04a40"/>
<rect x="83.56" y="74.10" width="9.88" height="3.40" fill="#d4314a"/>
<rect x="93.29" y="74.10" width="3.40" height="3.40" fill="#c42a52"/>
<rect x="96.54" y="74.10" width="6.64" height="3.40" fill="#b02858"/>
<rect x="103.03" y="74.10" width="26.11" height="3.40" fill="#c02a80"/>
<rect x="128.99" y="74.10" width="6.64" height="3.40" fill="#b02858"/>
<rect x="135.48" y="74.10" width="3.40" height="3.40" fill="#c42a52"/>
<rect x="15.41" y="77.35" width="13.13" height="3.40" fill="#f0913c"/>
<rect x="28.39" y="77.35" width="3.40" height="3.40" fill="#f06d35"/>
<rect x="31.64" y="77.35" width="16.38" height="3.40" fill="#f0913c"/>
<rect x="77.07" y="77.35" width="9.88" height="3.40" fill="#e04a40"/>
<rect x="86.80" y="77.35" width="6.64" height="3.40" fill="#d4314a"/>
<rect x="93.29" y="77.35" width="6.64" height="3.40" fill="#c42a52"/>
<rect x="99.78" y="77.35" width="3.40" height="3.40" fill="#b02858"/>
<rect x="103.03" y="77.35" width="22.87" height="3.40" fill="#c02a80"/>
<rect x="125.74" y="77.35" width="6.64" height="3.40" fill="#b02858"/>
<rect x="132.23" y="77.35" width="3.39" height="3.40" fill="#c42a52"/>
<rect x="15.41" y="80.60" width="9.88" height="3.40" fill="#f0a146"/>
<rect x="25.15" y="80.60" width="6.64" height="3.40" fill="#f0913c"/>
<rect x="80.31" y="80.60" width="9.88" height="3.40" fill="#e04a40"/>
<rect x="90.05" y="80.60" width="6.64" height="3.40" fill="#d4314a"/>
<rect x="96.54" y="80.60" width="3.39" height="3.40" fill="#c42a52"/>
<rect x="99.78" y="80.60" width="9.88" height="3.40" fill="#b02858"/>
<rect x="109.52" y="80.60" width="9.89" height="3.40" fill="#c02a80"/>
<rect x="119.25" y="80.60" width="9.88" height="3.40" fill="#b02858"/>
<rect x="128.99" y="80.60" width="6.64" height="3.40" fill="#c42a52"/>
<rect x="21.90" y="83.85" width="3.39" height="3.40" fill="#f0a146"/>
<rect x="83.56" y="83.85" width="3.40" height="3.40" fill="#ea5a38"/>
<rect x="86.80" y="83.85" width="6.64" height="3.40" fill="#e04a40"/>
<rect x="93.29" y="83.85" width="6.64" height="3.40" fill="#d4314a"/>
<rect x="99.78" y="83.85" width="6.64" height="3.40" fill="#c42a52"/>
<rect x="106.27" y="83.85" width="13.13" height="3.40" fill="#b02858"/>
<rect x="119.25" y="83.85" width="13.13" height="3.40" fill="#c42a52"/>
<rect x="86.80" y="87.10" width="3.39" height="3.40" fill="#ea5a38"/>
<rect x="93.29" y="87.10" width="3.40" height="3.40" fill="#e04a40"/>
<rect x="96.54" y="87.10" width="9.88" height="3.40" fill="#d4314a"/>
<rect x="106.27" y="87.10" width="13.13" height="3.40" fill="#c42a52"/>
<rect x="119.25" y="87.10" width="13.13" height="3.40" fill="#d4314a"/>
<rect x="93.29" y="90.35" width="3.40" height="3.40" fill="#ea5a38"/>
<rect x="96.54" y="90.35" width="29.35" height="3.40" fill="#e04a40"/>
<rect x="125.74" y="90.35" width="3.40" height="3.40" fill="#d4314a"/>
<rect x="99.78" y="93.60" width="22.87" height="3.40" fill="#ea5a38"/>
<rect x="109.52" y="100.10" width="6.64" height="3.40" fill="#f06d35"/>
<rect x="116.01" y="100.10" width="9.88" height="3.40" fill="#ea5a38"/>
<rect x="109.52" y="103.35" width="6.64" height="3.40" fill="#f06d35"/>
<rect x="116.01" y="103.35" width="9.88" height="3.40" fill="#ea5a38"/>
<rect x="112.76" y="106.60" width="9.88" height="3.40" fill="#f06d35"/>
<rect x="122.50" y="106.60" width="3.40" height="3.40" fill="#ea5a38"/>
<rect x="116.01" y="109.85" width="3.40" height="3.40" fill="#f06d35"/>
</g>
<use href="#coast" fill="none" stroke="#000" stroke-width="0.6" stroke-linejoin="round"/>
<use href="#bord" fill="none" stroke="#111" stroke-width="0.65"/>
</g>
<rect x="0" y="0" width="148.6" height="113.8" fill="none" stroke="#111" stroke-width="0.75"/>
<text x="2.9" y="10.9" font-size="11">l</text>
<text x="2.2" y="110.4" font-size="9">Δ<tspan dx="1">:</tspan><tspan dx="2">3.83</tspan></text>
<rect x="2.2" y="101.1" width="7.6" height="0.9" fill="#000"/>
<text x="74.3" y="-4.2" font-size="10.85" text-anchor="middle" fill="#3b7cbe">UKESM1-0-LL</text>
</g>
<text x="21.7" y="18.8" font-size="8" text-anchor="end">10°S</text>
<text x="21.7" y="51.3" font-size="8" text-anchor="end">20°S</text>
<text x="21.7" y="83.8" font-size="8" text-anchor="end">30°S</text>
<text x="21.7" y="116.3" font-size="8" text-anchor="end">40°S</text>
<text x="21.7" y="162.7" font-size="8" text-anchor="end">10°S</text>
<text x="21.7" y="195.2" font-size="8" text-anchor="end">20°S</text>
<text x="21.7" y="227.7" font-size="8" text-anchor="end">30°S</text>
<text x="21.7" y="260.2" font-size="8" text-anchor="end">40°S</text>
<text x="21.7" y="306.7" font-size="8" text-anchor="end">10°S</text>
<text x="21.7" y="339.2" font-size="8" text-anchor="end">20°S</text>
<text x="21.7" y="371.7" font-size="8" text-anchor="end">30°S</text>
<text x="21.7" y="404.2" font-size="8" text-anchor="end">40°S</text>
<text x="41.4" y="424.6" font-size="8" text-anchor="middle">115°E</text>
<text x="73.9" y="424.6" font-size="8" text-anchor="middle">125°E</text>
<text x="106.3" y="424.6" font-size="8" text-anchor="middle">135°E</text>
<text x="138.8" y="424.6" font-size="8" text-anchor="middle">145°E</text>
<text x="171.2" y="424.6" font-size="8" text-anchor="middle">155°E</text>
<text x="208.0" y="424.6" font-size="8" text-anchor="middle">115°E</text>
<text x="240.5" y="424.6" font-size="8" text-anchor="middle">125°E</text>
<text x="272.9" y="424.6" font-size="8" text-anchor="middle">135°E</text>
<text x="305.4" y="424.6" font-size="8" text-anchor="middle">145°E</text>
<text x="337.8" y="424.6" font-size="8" text-anchor="middle">155°E</text>
<text x="374.7" y="424.6" font-size="8" text-anchor="middle">115°E</text>
<text x="407.2" y="424.6" font-size="8" text-anchor="middle">125°E</text>
<text x="439.6" y="424.6" font-size="8" text-anchor="middle">135°E</text>
<text x="472.1" y="424.6" font-size="8" text-anchor="middle">145°E</text>
<text x="504.5" y="424.6" font-size="8" text-anchor="middle">155°E</text>
<text x="541.3" y="424.6" font-size="8" text-anchor="middle">115°E</text>
<text x="573.8" y="424.6" font-size="8" text-anchor="middle">125°E</text>
<text x="606.2" y="424.6" font-size="8" text-anchor="middle">135°E</text>
<text x="638.7" y="424.6" font-size="8" text-anchor="middle">145°E</text>
<text x="671.1" y="424.6" font-size="8" text-anchor="middle">155°E</text>
<g shape-rendering="crispEdges">
<rect x="57.50" y="454.3" width="31.92" height="10.8" fill="#fbfed2"/>
<rect x="89.22" y="454.3" width="31.92" height="10.8" fill="#f5fcb6"/>
<rect x="120.94" y="454.3" width="31.92" height="10.8" fill="#f1f7a2"/>
<rect x="152.66" y="454.3" width="31.92" height="10.8" fill="#f3e592"/>
<rect x="184.38" y="454.3" width="31.92" height="10.8" fill="#f0d478"/>
<rect x="216.10" y="454.3" width="31.92" height="10.8" fill="#ecbd5e"/>
<rect x="247.82" y="454.3" width="31.92" height="10.8" fill="#eeb052"/>
<rect x="279.54" y="454.3" width="31.92" height="10.8" fill="#f0a146"/>
<rect x="311.26" y="454.3" width="31.92" height="10.8" fill="#f0913c"/>
<rect x="342.98" y="454.3" width="31.92" height="10.8" fill="#f06d35"/>
<rect x="374.70" y="454.3" width="31.92" height="10.8" fill="#ea5a38"/>
<rect x="406.42" y="454.3" width="31.92" height="10.8" fill="#e04a40"/>
<rect x="438.14" y="454.3" width="31.92" height="10.8" fill="#d4314a"/>
<rect x="469.86" y="454.3" width="31.92" height="10.8" fill="#c42a52"/>
<rect x="501.58" y="454.3" width="31.92" height="10.8" fill="#b02858"/>
<rect x="533.30" y="454.3" width="31.92" height="10.8" fill="#c02a80"/>
<rect x="565.02" y="454.3" width="31.92" height="10.8" fill="#b02a88"/>
<rect x="596.74" y="454.3" width="31.92" height="10.8" fill="#90267a"/>
</g>
<path d="M57.5 454.3 L29 459.7 L57.5 465.1 Z" fill="#fdfee6"/>
<path d="M628.5 454.3 L656.5 459.7 L628.5 465.1 Z" fill="#86206f"/>
<path d="M57.5 454.3 L29 459.7 L57.5 465.1 L628.5 465.1 L656.5 459.7 L628.5 454.3 Z" fill="none" stroke="#333" stroke-width="0.8"/>
<rect x="57.10" y="465.1" width="0.8" height="2.2" fill="#222"/>
<text x="57.5" y="475.9" font-size="8" text-anchor="middle">0.8</text>
<rect x="88.82" y="465.1" width="0.8" height="2.2" fill="#222"/>
<text x="89.2" y="475.9" font-size="8" text-anchor="middle">1.0</text>
<rect x="120.54" y="465.1" width="0.8" height="2.2" fill="#222"/>
<text x="120.9" y="475.9" font-size="8" text-anchor="middle">1.2</text>
<rect x="152.26" y="465.1" width="0.8" height="2.2" fill="#222"/>
<text x="152.7" y="475.9" font-size="8" text-anchor="middle">1.4</text>
<rect x="183.98" y="465.1" width="0.8" height="2.2" fill="#222"/>
<text x="184.4" y="475.9" font-size="8" text-anchor="middle">1.6</text>
<rect x="215.70" y="465.1" width="0.8" height="2.2" fill="#222"/>
<text x="216.1" y="475.9" font-size="8" text-anchor="middle">1.8</text>
<rect x="247.42" y="465.1" width="0.8" height="2.2" fill="#222"/>
<text x="247.8" y="475.9" font-size="8" text-anchor="middle">2.0</text>
<rect x="279.14" y="465.1" width="0.8" height="2.2" fill="#222"/>
<text x="279.5" y="475.9" font-size="8" text-anchor="middle">2.2</text>
<rect x="310.86" y="465.1" width="0.8" height="2.2" fill="#222"/>
<text x="311.3" y="475.9" font-size="8" text-anchor="middle">2.4</text>
<rect x="342.58" y="465.1" width="0.8" height="2.2" fill="#222"/>
<text x="343.0" y="475.9" font-size="8" text-anchor="middle">2.6</text>
<rect x="374.30" y="465.1" width="0.8" height="2.2" fill="#222"/>
<text x="374.7" y="475.9" font-size="8" text-anchor="middle">2.8</text>
<rect x="406.02" y="465.1" width="0.8" height="2.2" fill="#222"/>
<text x="406.4" y="475.9" font-size="8" text-anchor="middle">3.0</text>
<rect x="437.74" y="465.1" width="0.8" height="2.2" fill="#222"/>
<text x="438.1" y="475.9" font-size="8" text-anchor="middle">3.2</text>
<rect x="469.46" y="465.1" width="0.8" height="2.2" fill="#222"/>
<text x="469.9" y="475.9" font-size="8" text-anchor="middle">3.4</text>
<rect x="501.18" y="465.1" width="0.8" height="2.2" fill="#222"/>
<text x="501.6" y="475.9" font-size="8" text-anchor="middle">3.6</text>
<rect x="532.90" y="465.1" width="0.8" height="2.2" fill="#222"/>
<text x="533.3" y="475.9" font-size="8" text-anchor="middle">3.8</text>
<rect x="564.62" y="465.1" width="0.8" height="2.2" fill="#222"/>
<text x="565.0" y="475.9" font-size="8" text-anchor="middle">4.0</text>
<rect x="596.34" y="465.1" width="0.8" height="2.2" fill="#222"/>
<text x="596.7" y="475.9" font-size="8" text-anchor="middle">4.2</text>
<rect x="628.06" y="465.1" width="0.8" height="2.2" fill="#222"/>
<text x="628.5" y="475.9" font-size="8" text-anchor="middle">4.4</text>
<text x="343" y="485.7" font-size="7.25" text-anchor="middle">Annual mean temperature change (°C) N2.0 SSP3-7.0 (blue), N1.5 RCP8.5 (red), N1.0 SRESA2 (green), 2060-2079 versus 1990-2009</text>
</svg></body></html>
